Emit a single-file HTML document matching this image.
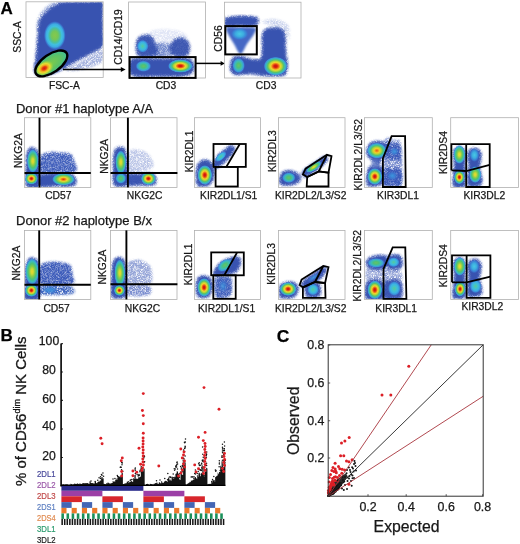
<!DOCTYPE html>
<html><head><meta charset="utf-8"><style>
html,body{margin:0;padding:0;background:#fff;}
body{width:520px;height:544px;overflow:hidden;}
svg{display:block;}
text{font-family:"Liberation Sans", sans-serif;}
</style></head><body>
<svg width="520" height="544" viewBox="0 0 520 544">
<defs><radialGradient id="gR"><stop offset="0" stop-color="#cc1010" stop-opacity="1"/><stop offset="0.14" stop-color="#d8220e" stop-opacity="1"/><stop offset="0.27" stop-color="#ee7218" stop-opacity="1"/><stop offset="0.4" stop-color="#f0d42a" stop-opacity="1"/><stop offset="0.53" stop-color="#b4d63a" stop-opacity="1"/><stop offset="0.66" stop-color="#5cc266" stop-opacity="1"/><stop offset="0.78" stop-color="#3cbcb4" stop-opacity="1"/><stop offset="0.9" stop-color="#3c9ee0" stop-opacity="0.9"/><stop offset="1" stop-color="#3a6cd0" stop-opacity="0"/></radialGradient><radialGradient id="gR2"><stop offset="0" stop-color="#d8300e" stop-opacity="1"/><stop offset="0.16" stop-color="#ef7a18" stop-opacity="1"/><stop offset="0.32" stop-color="#ecd62c" stop-opacity="1"/><stop offset="0.5" stop-color="#9cd040" stop-opacity="1"/><stop offset="0.66" stop-color="#50c274" stop-opacity="1"/><stop offset="0.8" stop-color="#3cb8c0" stop-opacity="1"/><stop offset="0.9" stop-color="#3c9ee0" stop-opacity="0.85"/><stop offset="1" stop-color="#3a6cd0" stop-opacity="0"/></radialGradient><radialGradient id="gRE"><stop offset="0" stop-color="#d01a10" stop-opacity="1"/><stop offset="0.22" stop-color="#e8400f" stop-opacity="1"/><stop offset="0.4" stop-color="#f0a81e" stop-opacity="1"/><stop offset="0.6" stop-color="#e8dc30" stop-opacity="1"/><stop offset="0.8" stop-color="#a8d43c" stop-opacity="0.8"/><stop offset="1" stop-color="#8ccf48" stop-opacity="0"/></radialGradient><radialGradient id="gEll"><stop offset="0" stop-color="#7ccb4c" stop-opacity="1"/><stop offset="0.6" stop-color="#5cc266" stop-opacity="1"/><stop offset="0.85" stop-color="#48c08a" stop-opacity="1"/><stop offset="1" stop-color="#40b8b0" stop-opacity="1"/></radialGradient><radialGradient id="gO"><stop offset="0" stop-color="#e85a14" stop-opacity="1"/><stop offset="0.12" stop-color="#f08a1c" stop-opacity="1"/><stop offset="0.28" stop-color="#f0d02a" stop-opacity="1"/><stop offset="0.45" stop-color="#a8d43c" stop-opacity="1"/><stop offset="0.6" stop-color="#54c270" stop-opacity="1"/><stop offset="0.74" stop-color="#3cbcb8" stop-opacity="1"/><stop offset="0.88" stop-color="#3c9ee0" stop-opacity="0.9"/><stop offset="1" stop-color="#3a6cd0" stop-opacity="0"/></radialGradient><radialGradient id="gY"><stop offset="0" stop-color="#ecd82c" stop-opacity="1"/><stop offset="0.18" stop-color="#d0da34" stop-opacity="1"/><stop offset="0.38" stop-color="#88cc4a" stop-opacity="1"/><stop offset="0.58" stop-color="#4cc276" stop-opacity="1"/><stop offset="0.75" stop-color="#3cbcb8" stop-opacity="1"/><stop offset="0.88" stop-color="#3c9ee0" stop-opacity="0.9"/><stop offset="1" stop-color="#3a6cd0" stop-opacity="0"/></radialGradient><radialGradient id="gG"><stop offset="0" stop-color="#66c266" stop-opacity="1"/><stop offset="0.3" stop-color="#4cc07c" stop-opacity="1"/><stop offset="0.55" stop-color="#3cbcb8" stop-opacity="1"/><stop offset="0.78" stop-color="#3c9ee0" stop-opacity="0.9"/><stop offset="1" stop-color="#3a6cd0" stop-opacity="0"/></radialGradient><radialGradient id="gC1"><stop offset="0" stop-color="#58c898" stop-opacity="1"/><stop offset="0.3" stop-color="#44c4c8" stop-opacity="1"/><stop offset="0.6" stop-color="#3cb4e4" stop-opacity="1"/><stop offset="0.82" stop-color="#3a90dc" stop-opacity="0.9"/><stop offset="1" stop-color="#3a6cd0" stop-opacity="0"/></radialGradient><radialGradient id="gCG"><stop offset="0" stop-color="#86c84c" stop-opacity="1"/><stop offset="0.3" stop-color="#74c658" stop-opacity="1"/><stop offset="0.5" stop-color="#4cc0a0" stop-opacity="1"/><stop offset="0.64" stop-color="#40c0e0" stop-opacity="1"/><stop offset="0.8" stop-color="#3eaae2" stop-opacity="1"/><stop offset="0.9" stop-color="#3a88d8" stop-opacity="0.7"/><stop offset="1" stop-color="#3a6cd0" stop-opacity="0"/></radialGradient><radialGradient id="gC"><stop offset="0" stop-color="#48c8e4" stop-opacity="1"/><stop offset="0.45" stop-color="#3cacdf" stop-opacity="1"/><stop offset="0.75" stop-color="#3a86d8" stop-opacity="0.85"/><stop offset="1" stop-color="#3a6cd0" stop-opacity="0"/></radialGradient><radialGradient id="gC2"><stop offset="0" stop-color="#3c96de" stop-opacity="1"/><stop offset="0.5" stop-color="#3a80d4" stop-opacity="0.8"/><stop offset="1" stop-color="#3a6cd0" stop-opacity="0"/></radialGradient><filter id="spk" x="-20%" y="-20%" width="140%" height="140%"><feGaussianBlur in="SourceGraphic" stdDeviation="1.3" result="bl"/><feTurbulence type="fractalNoise" baseFrequency="1.8" numOctaves="2" seed="5" result="n"/><feColorMatrix in="n" type="matrix" values="0 0 0 0 0  0 0 0 0 0  0 0 0 0 0  2.6 0 0 0 -0.55" result="na"/><feComposite in="bl" in2="na" operator="in" result="c"/><feGaussianBlur in="c" stdDeviation="0.35"/></filter><filter id="b5" x="-30%" y="-30%" width="160%" height="160%"><feGaussianBlur stdDeviation="0.5"/></filter><filter id="b9" x="-30%" y="-30%" width="160%" height="160%"><feGaussianBlur stdDeviation="0.9"/></filter><filter id="b10" x="-30%" y="-30%" width="160%" height="160%"><feGaussianBlur stdDeviation="1.0"/></filter><filter id="b12" x="-30%" y="-30%" width="160%" height="160%"><feGaussianBlur stdDeviation="1.2"/></filter><filter id="b13" x="-30%" y="-30%" width="160%" height="160%"><feGaussianBlur stdDeviation="1.3"/></filter><filter id="b15" x="-30%" y="-30%" width="160%" height="160%"><feGaussianBlur stdDeviation="1.5"/></filter></defs>
<rect width="520" height="544" fill="#fff"/>
<clipPath id="fc"><rect x="26.4" y="2.2" width="76.4" height="74.8"/><rect x="129" y="2.4" width="76.1" height="75.2"/><rect x="224.8" y="2.6" width="75.8" height="75"/><rect x="24.9" y="118.1" width="65.5" height="68.9"/><rect x="110.9" y="118.1" width="65.7" height="68.9"/><rect x="194.9" y="118.1" width="65.2" height="68.9"/><rect x="278.9" y="118.1" width="65.7" height="68.9"/><rect x="364.8" y="118.1" width="67.1" height="68.9"/><rect x="451.1" y="118.1" width="67" height="68.9"/><rect x="24.9" y="230.8" width="65.5" height="68.2"/><rect x="110.9" y="230.8" width="65.7" height="68.2"/><rect x="194.9" y="230.8" width="65.2" height="68.2"/><rect x="278.9" y="230.8" width="65.7" height="68.2"/><rect x="364.8" y="230.8" width="67.1" height="68.2"/><rect x="451.1" y="230.8" width="67" height="68.2"/></clipPath>
<g clip-path="url(#fc)"><path d="M36.5,28 C36.33,26 36.92,21 38,18 C39.08,15 41,12.33 43,10 C45,7.67 47.5,5.42 50,4 C52.5,2.58 55.33,1.77 58,1.5 C60.67,1.23 67.33,0.98 66,2.4 C64.67,3.82 53.67,7.73 50,10 C46.33,12.27 45.58,14 44,16 C42.42,18 41.33,19.67 40.5,22 C39.67,24.33 39.67,29 39,30 C38.33,31 36.67,30 36.5,28Z" fill="#7088cc" opacity="0.6" filter="url(#spk)"/>
<path d="M38.8,30 C39.22,26.67 39.63,22.5 40.5,20 C41.37,17.5 42.52,16.67 44,15 C45.48,13.33 47.23,11.67 49.4,10 C51.57,8.33 54.57,6.27 57,5 C59.43,3.73 58.5,2.85 64,2.4 C69.5,1.95 83.7,2.32 90,2.3 C96.3,2.28 99.73,1.35 101.8,2.3 C103.87,3.25 102.3,3.38 102.4,8 C102.5,12.62 102.43,23.83 102.4,30 C102.37,36.17 103.93,41.33 102.2,45 C100.47,48.67 96.03,49.58 92,52 C87.97,54.42 82.67,56.92 78,59.5 C73.33,62.08 68.33,65.25 64,67.5 C59.67,69.75 56,71.67 52,73 C48,74.33 42.83,76 40,75.5 C37.17,75 35.58,72.92 35,70 C34.42,67.08 36,63 36.5,58 C37,53 37.62,44.67 38,40 C38.38,35.33 38.38,33.33 38.8,30Z" fill="#3852b0" stroke="#3852b0" stroke-width="3" opacity="0.85" filter="url(#spk)"/>
<path d="M38.8,30 C39.22,26.67 39.63,22.5 40.5,20 C41.37,17.5 42.52,16.67 44,15 C45.48,13.33 47.23,11.67 49.4,10 C51.57,8.33 54.57,6.27 57,5 C59.43,3.73 58.5,2.85 64,2.4 C69.5,1.95 83.7,2.32 90,2.3 C96.3,2.28 99.73,1.35 101.8,2.3 C103.87,3.25 102.3,3.38 102.4,8 C102.5,12.62 102.43,23.83 102.4,30 C102.37,36.17 103.93,41.33 102.2,45 C100.47,48.67 96.03,49.58 92,52 C87.97,54.42 82.67,56.92 78,59.5 C73.33,62.08 68.33,65.25 64,67.5 C59.67,69.75 56,71.67 52,73 C48,74.33 42.83,76 40,75.5 C37.17,75 35.58,72.92 35,70 C34.42,67.08 36,63 36.5,58 C37,53 37.62,44.67 38,40 C38.38,35.33 38.38,33.33 38.8,30Z" fill="#3852b0" opacity="1.0" filter="url(#b10)"/>
<path d="M66,70 C66.33,68.5 76,64.33 82,61 C88,57.67 98.67,49.83 102,50 C105.33,50.17 105.67,58.67 102,62 C98.33,65.33 86,68.67 80,70 C74,71.33 65.67,71.5 66,70Z" fill="#6a80c8" opacity="0.6" filter="url(#spk)"/>
<ellipse cx="54.8" cy="35.5" rx="11" ry="14.5" fill="url(#gCG)"/>
<clipPath id="ce"><ellipse cx="51.3" cy="63.4" rx="18.5" ry="9" transform="rotate(-35 51.3 63.4)"/></clipPath>
<g clip-path="url(#ce)"><ellipse cx="51.3" cy="63.4" rx="19" ry="9.5" fill="url(#gEll)" transform="rotate(-35 51.3 63.4)"/>
<ellipse cx="44.3" cy="68.3" rx="10" ry="7" fill="url(#gRE)" transform="rotate(-30 44.3 68.3)"/>
</g>
<path d="M148,32 C150.5,30.17 159.33,29 165,29 C170.67,29 178.17,30.17 182,32 C185.83,33.83 190,38.33 188,40 C186,41.67 176.33,42 170,42 C163.67,42 153.67,41.67 150,40 C146.33,38.33 145.5,33.83 148,32Z" fill="#a8b6e4" opacity="0.35" filter="url(#spk)"/>
<path d="M150,46 C153.67,44.17 168.33,43.33 172,45 C175.67,46.67 175.67,54.17 172,56 C168.33,57.83 153.67,57.67 150,56 C146.33,54.33 146.33,47.83 150,46Z" fill="#7088cc" opacity="0.45" filter="url(#b15)"/>
<path d="M150,44 C153.67,42 168.33,42 172,44 C175.67,46 175.67,54 172,56 C168.33,58 153.67,58 150,56 C146.33,54 146.33,46 150,44Z" fill="#5a74c4" opacity="0.7" filter="url(#spk)"/>
<path d="M137,43 C137.33,40.25 138.5,38.75 140,37.5 C141.5,36.25 144,35.42 146,35.5 C148,35.58 150.5,36.25 152,38 C153.5,39.75 154.17,43.5 155,46 C155.83,48.5 158.5,51.33 157,53 C155.5,54.67 149.17,55.83 146,56 C142.83,56.17 139.5,56.17 138,54 C136.5,51.83 136.67,45.75 137,43Z" fill="#3852b0" stroke="#3852b0" stroke-width="3" opacity="0.782" filter="url(#spk)"/>
<path d="M137,43 C137.33,40.25 138.5,38.75 140,37.5 C141.5,36.25 144,35.42 146,35.5 C148,35.58 150.5,36.25 152,38 C153.5,39.75 154.17,43.5 155,46 C155.83,48.5 158.5,51.33 157,53 C155.5,54.67 149.17,55.83 146,56 C142.83,56.17 139.5,56.17 138,54 C136.5,51.83 136.67,45.75 137,43Z" fill="#3852b0" opacity="0.92" filter="url(#b10)"/>
<path d="M172,44 C172.83,42.08 174.17,40.33 176,39.5 C177.83,38.67 181,38.42 183,39 C185,39.58 187,41.17 188,43 C189,44.83 189.33,48 189,50 C188.67,52 188.17,54.08 186,55 C183.83,55.92 178.5,56.17 176,55.5 C173.5,54.83 171.67,52.92 171,51 C170.33,49.08 171.17,45.92 172,44Z" fill="#3852b0" stroke="#3852b0" stroke-width="3" opacity="0.765" filter="url(#spk)"/>
<path d="M172,44 C172.83,42.08 174.17,40.33 176,39.5 C177.83,38.67 181,38.42 183,39 C185,39.58 187,41.17 188,43 C189,44.83 189.33,48 189,50 C188.67,52 188.17,54.08 186,55 C183.83,55.92 178.5,56.17 176,55.5 C173.5,54.83 171.67,52.92 171,51 C170.33,49.08 171.17,45.92 172,44Z" fill="#3852b0" opacity="0.9" filter="url(#b10)"/>
<ellipse cx="142.6" cy="46.2" rx="6" ry="6.5" fill="url(#gC1)"/>
<path d="M131,61 C132.5,58.67 135.17,59.25 140,59 C144.83,58.75 153.33,59.58 160,59.5 C166.67,59.42 175,58.42 180,58.5 C185,58.58 187.83,58.75 190,60 C192.17,61.25 192.83,63.83 193,66 C193.17,68.17 193.17,71.42 191,73 C188.83,74.58 185.17,75.08 180,75.5 C174.83,75.92 166.67,75.45 160,75.5 C153.33,75.55 144.83,76.22 140,75.8 C135.17,75.38 132.5,75.47 131,73 C129.5,70.53 129.5,63.33 131,61Z" fill="#3852b0" stroke="#3852b0" stroke-width="3" opacity="0.85" filter="url(#spk)"/>
<path d="M131,61 C132.5,58.67 135.17,59.25 140,59 C144.83,58.75 153.33,59.58 160,59.5 C166.67,59.42 175,58.42 180,58.5 C185,58.58 187.83,58.75 190,60 C192.17,61.25 192.83,63.83 193,66 C193.17,68.17 193.17,71.42 191,73 C188.83,74.58 185.17,75.08 180,75.5 C174.83,75.92 166.67,75.45 160,75.5 C153.33,75.55 144.83,76.22 140,75.8 C135.17,75.38 132.5,75.47 131,73 C129.5,70.53 129.5,63.33 131,61Z" fill="#3852b0" opacity="1.0" filter="url(#b9)"/>
<ellipse cx="143.4" cy="66.2" rx="8" ry="5.8" fill="url(#gG)"/>
<ellipse cx="180.4" cy="66" rx="12.5" ry="6.8" fill="url(#gR)"/>
<path d="M262,22 C260.67,20.17 270.67,18.5 275,19 C279.33,19.5 285.67,21.5 288,25 C290.33,28.5 289.83,39.17 289,40 C288.17,40.83 287.5,33 283,30 C278.5,27 263.33,23.83 262,22Z" fill="#8da0d8" opacity="0.45" filter="url(#spk)"/>
<path d="M226,19 C227.5,17.58 232,17.33 236,17 C240,16.67 246.5,16.75 250,17 C253.5,17.25 255.83,17.5 257,18.5 C258.17,19.5 257.83,21.83 257,23 C256.17,24.17 254.83,25.17 252,25.5 C249.17,25.83 244.17,25 240,25 C235.83,25 229.33,26.5 227,25.5 C224.67,24.5 224.5,20.42 226,19Z" fill="#3852b0" stroke="#3852b0" stroke-width="3" opacity="0.85" filter="url(#spk)"/>
<path d="M226,19 C227.5,17.58 232,17.33 236,17 C240,16.67 246.5,16.75 250,17 C253.5,17.25 255.83,17.5 257,18.5 C258.17,19.5 257.83,21.83 257,23 C256.17,24.17 254.83,25.17 252,25.5 C249.17,25.83 244.17,25 240,25 C235.83,25 229.33,26.5 227,25.5 C224.67,24.5 224.5,20.42 226,19Z" fill="#3852b0" opacity="1.0" filter="url(#b9)"/>
<path d="M227,27.5 C229,26.42 235.33,27.42 240,27.5 C244.67,27.58 252.67,26.92 255,28 C257.33,29.08 255.33,31.33 254,34 C252.67,36.67 249,40.83 247,44 C245,47.17 243.33,51.5 242,53 C240.67,54.5 240.33,54.5 239,53 C237.67,51.5 235.83,47.17 234,44 C232.17,40.83 229.17,36.75 228,34 C226.83,31.25 225,28.58 227,27.5Z" fill="#4468c4" opacity="1.0" filter="url(#b9)"/>
<ellipse cx="239.6" cy="33.9" rx="9" ry="6.5" fill="url(#gC)"/>
<path d="M263,36 C263.67,31.33 264.33,31.25 266,30 C267.67,28.75 270.5,28.58 273,28.5 C275.5,28.42 279.08,28.42 281,29.5 C282.92,30.58 283.83,31.58 284.5,35 C285.17,38.42 284.67,45.5 285,50 C285.33,54.5 286.33,58.33 286.5,62 C286.67,65.67 286.92,69.83 286,72 C285.08,74.17 284.5,74.5 281,75 C277.5,75.5 270.17,75.33 265,75 C259.83,74.67 254.83,73.17 250,73 C245.17,72.83 239.17,74.67 236,74 C232.83,73.33 231.5,71.5 231,69 C230.5,66.5 231.5,61 233,59 C234.5,57 236.83,56.83 240,57 C243.17,57.17 248.33,59.83 252,60 C255.67,60.17 260.17,62 262,58 C263.83,54 262.33,40.67 263,36Z" fill="#3852b0" stroke="#3852b0" stroke-width="3" opacity="0.85" filter="url(#spk)"/>
<path d="M263,36 C263.67,31.33 264.33,31.25 266,30 C267.67,28.75 270.5,28.58 273,28.5 C275.5,28.42 279.08,28.42 281,29.5 C282.92,30.58 283.83,31.58 284.5,35 C285.17,38.42 284.67,45.5 285,50 C285.33,54.5 286.33,58.33 286.5,62 C286.67,65.67 286.92,69.83 286,72 C285.08,74.17 284.5,74.5 281,75 C277.5,75.5 270.17,75.33 265,75 C259.83,74.67 254.83,73.17 250,73 C245.17,72.83 239.17,74.67 236,74 C232.83,73.33 231.5,71.5 231,69 C230.5,66.5 231.5,61 233,59 C234.5,57 236.83,56.83 240,57 C243.17,57.17 248.33,59.83 252,60 C255.67,60.17 260.17,62 262,58 C263.83,54 262.33,40.67 263,36Z" fill="#3852b0" opacity="1.0" filter="url(#b9)"/>
<ellipse cx="238.6" cy="65.5" rx="6.5" ry="8" fill="url(#gG)"/>
<ellipse cx="275.6" cy="66.2" rx="12" ry="9.5" fill="url(#gR)"/>
<path d="M41,157 C42.5,154 46.83,154.5 50,154 C53.17,153.5 56.83,153.83 60,154 C63.17,154.17 66.83,153.83 69,155 C71.17,156.17 72.25,158.17 73,161 C73.75,163.83 78.83,170.17 73.5,172 C68.17,173.83 46.42,174.5 41,172 C35.58,169.5 39.5,160 41,157Z" fill="#5c76c6" opacity="0.55" filter="url(#b15)"/>
<path d="M41,156 C42.5,152.67 46.83,152.58 50,152 C53.17,151.42 56.67,152.25 60,152.5 C63.33,152.75 67.67,152.25 70,153.5 C72.33,154.75 73.25,156.92 74,160 C74.75,163.08 80,170 74.5,172 C69,174 46.58,174.67 41,172 C35.42,169.33 39.5,159.33 41,156Z" fill="#4260bc" opacity="1.0" filter="url(#spk)"/>
<path d="M27.5,155 C28.08,151.17 28.75,149.92 30,149 C31.25,148.08 33.57,148.33 35,149.5 C36.43,150.67 37.97,152.25 38.6,156 C39.23,159.75 38.8,167.08 38.8,172 C38.8,176.92 40.48,183.25 38.6,185.5 C36.72,187.75 29.52,187.75 27.5,185.5 C25.48,183.25 26.5,177.08 26.5,172 C26.5,166.92 26.92,158.83 27.5,155Z" fill="#3852b0" stroke="#3852b0" stroke-width="3" opacity="0.85" filter="url(#spk)"/>
<path d="M27.5,155 C28.08,151.17 28.75,149.92 30,149 C31.25,148.08 33.57,148.33 35,149.5 C36.43,150.67 37.97,152.25 38.6,156 C39.23,159.75 38.8,167.08 38.8,172 C38.8,176.92 40.48,183.25 38.6,185.5 C36.72,187.75 29.52,187.75 27.5,185.5 C25.48,183.25 26.5,177.08 26.5,172 C26.5,166.92 26.92,158.83 27.5,155Z" fill="#3852b0" opacity="1.0" filter="url(#b9)"/>
<path d="M40.5,176 C42.92,174.13 50.08,174.47 55,174.3 C59.92,174.13 66.67,174.22 70,175 C73.33,175.78 74.5,177.33 75,179 C75.5,180.67 76.33,183.9 73,185 C69.67,186.1 60.42,185.52 55,185.6 C49.58,185.68 42.92,187.1 40.5,185.5 C38.08,183.9 38.08,177.87 40.5,176Z" fill="#3852b0" stroke="#3852b0" stroke-width="3" opacity="0.85" filter="url(#spk)"/>
<path d="M40.5,176 C42.92,174.13 50.08,174.47 55,174.3 C59.92,174.13 66.67,174.22 70,175 C73.33,175.78 74.5,177.33 75,179 C75.5,180.67 76.33,183.9 73,185 C69.67,186.1 60.42,185.52 55,185.6 C49.58,185.68 42.92,187.1 40.5,185.5 C38.08,183.9 38.08,177.87 40.5,176Z" fill="#3852b0" opacity="1.0" filter="url(#b9)"/>
<ellipse cx="32.8" cy="160.9" rx="6" ry="12" fill="url(#gY)"/>
<ellipse cx="31.4" cy="178.6" rx="6.5" ry="6" fill="url(#gR)"/>
<ellipse cx="63.5" cy="179.3" rx="11.5" ry="6.2" fill="url(#gR2)"/>
<path d="M129,152 C130.83,148.33 136.5,149.33 140,150 C143.5,150.67 148,153 150,156 C152,159 155.5,165.33 152,168 C148.5,170.67 132.83,174.67 129,172 C125.17,169.33 127.17,155.67 129,152Z" fill="#7a8ed0" opacity="0.5" filter="url(#spk)"/>
<path d="M114.5,155 C115,151.08 115.58,149.58 117,148.5 C118.42,147.42 121.5,147.25 123,148.5 C124.5,149.75 125.4,152.08 126,156 C126.6,159.92 126.53,167.27 126.6,172 C126.67,176.73 128.33,182.33 126.4,184.4 C124.47,186.47 117.07,186.47 115,184.4 C112.93,182.33 114.08,176.9 114,172 C113.92,167.1 114,158.92 114.5,155Z" fill="#3852b0" stroke="#3852b0" stroke-width="3" opacity="0.85" filter="url(#spk)"/>
<path d="M114.5,155 C115,151.08 115.58,149.58 117,148.5 C118.42,147.42 121.5,147.25 123,148.5 C124.5,149.75 125.4,152.08 126,156 C126.6,159.92 126.53,167.27 126.6,172 C126.67,176.73 128.33,182.33 126.4,184.4 C124.47,186.47 117.07,186.47 115,184.4 C112.93,182.33 114.08,176.9 114,172 C113.92,167.1 114,158.92 114.5,155Z" fill="#3852b0" opacity="1.0" filter="url(#b9)"/>
<path d="M128.5,175 C130.42,173.35 136.42,174.7 140,174.5 C143.58,174.3 147.5,173.38 150,173.8 C152.5,174.22 154.33,175.3 155,177 C155.67,178.7 156.5,182.73 154,184 C151.5,185.27 144.25,184.53 140,184.6 C135.75,184.67 130.42,186 128.5,184.4 C126.58,182.8 126.58,176.65 128.5,175Z" fill="#3852b0" stroke="#3852b0" stroke-width="3" opacity="0.8075" filter="url(#spk)"/>
<path d="M128.5,175 C130.42,173.35 136.42,174.7 140,174.5 C143.58,174.3 147.5,173.38 150,173.8 C152.5,174.22 154.33,175.3 155,177 C155.67,178.7 156.5,182.73 154,184 C151.5,185.27 144.25,184.53 140,184.6 C135.75,184.67 130.42,186 128.5,184.4 C126.58,182.8 126.58,176.65 128.5,175Z" fill="#3852b0" opacity="0.95" filter="url(#b9)"/>
<ellipse cx="120.8" cy="162.2" rx="5.5" ry="12" fill="url(#gY)"/>
<ellipse cx="120.8" cy="178.4" rx="5.5" ry="5.5" fill="url(#gG)"/>
<ellipse cx="148.4" cy="178.6" rx="7.5" ry="6.5" fill="url(#gR)"/>
<path d="M197,172 C197.17,168.58 197.67,165.92 199,164 C200.33,162.08 203,160.5 205,160.5 C207,160.5 209.58,162.08 211,164 C212.42,165.92 213.5,169 213.5,172 C213.5,175 212.42,179.77 211,182 C209.58,184.23 207.17,184.98 205,185.4 C202.83,185.82 199.33,186.73 198,184.5 C196.67,182.27 196.83,175.42 197,172Z" fill="#3852b0" stroke="#3852b0" stroke-width="3" opacity="0.85" filter="url(#spk)"/>
<path d="M197,172 C197.17,168.58 197.67,165.92 199,164 C200.33,162.08 203,160.5 205,160.5 C207,160.5 209.58,162.08 211,164 C212.42,165.92 213.5,169 213.5,172 C213.5,175 212.42,179.77 211,182 C209.58,184.23 207.17,184.98 205,185.4 C202.83,185.82 199.33,186.73 198,184.5 C196.67,182.27 196.83,175.42 197,172Z" fill="#3852b0" opacity="1.0" filter="url(#b9)"/>
<path d="M213,166.5 C213.17,165 214.17,161.58 216,159 C217.83,156.42 221.5,153.08 224,151 C226.5,148.92 229.33,146.83 231,146.5 C232.67,146.17 234.33,147.25 234,149 C233.67,150.75 231.33,154.33 229,157 C226.67,159.67 222.33,163.17 220,165 C217.67,166.83 216.17,167.75 215,168 C213.83,168.25 212.83,168 213,166.5Z" fill="#3852b0" stroke="#3852b0" stroke-width="3" opacity="0.85" filter="url(#spk)"/>
<path d="M213,166.5 C213.17,165 214.17,161.58 216,159 C217.83,156.42 221.5,153.08 224,151 C226.5,148.92 229.33,146.83 231,146.5 C232.67,146.17 234.33,147.25 234,149 C233.67,150.75 231.33,154.33 229,157 C226.67,159.67 222.33,163.17 220,165 C217.67,166.83 216.17,167.75 215,168 C213.83,168.25 212.83,168 213,166.5Z" fill="#3852b0" opacity="1.0" filter="url(#b9)"/>
<ellipse cx="204.8" cy="175" rx="7.5" ry="10" fill="url(#gR)"/>
<ellipse cx="220.8" cy="156.6" rx="7" ry="3.5" fill="url(#gC1)" transform="rotate(-42 220.8 156.6)"/>
<path d="M281,176 C281.5,174.08 282.33,172.75 284,172 C285.67,171.25 288.83,171.17 291,171.5 C293.17,171.83 295.5,172.92 297,174 C298.5,175.08 300.17,176.5 300,178 C299.83,179.5 298,181.92 296,183 C294,184.08 290.5,184.42 288,184.5 C285.5,184.58 282.17,184.92 281,183.5 C279.83,182.08 280.5,177.92 281,176Z" fill="#3852b0" stroke="#3852b0" stroke-width="3" opacity="0.85" filter="url(#spk)"/>
<path d="M281,176 C281.5,174.08 282.33,172.75 284,172 C285.67,171.25 288.83,171.17 291,171.5 C293.17,171.83 295.5,172.92 297,174 C298.5,175.08 300.17,176.5 300,178 C299.83,179.5 298,181.92 296,183 C294,184.08 290.5,184.42 288,184.5 C285.5,184.58 282.17,184.92 281,183.5 C279.83,182.08 280.5,177.92 281,176Z" fill="#3852b0" opacity="1.0" filter="url(#b9)"/>
<path d="M297,175 C297.33,174 301.5,171.5 302,172 C302.5,172.5 300.83,177.5 300,178 C299.17,178.5 296.67,176 297,175Z" fill="#7a80cc" opacity="0.5" filter="url(#b15)"/>
<path d="M303.5,175 C303.33,174 303.25,171.83 305,170 C306.75,168.17 310.83,166.08 314,164 C317.17,161.92 321.83,158.42 324,157.5 C326.17,156.58 327.33,157.25 327,158.5 C326.67,159.75 324.17,162.92 322,165 C319.83,167.08 316.67,169.17 314,171 C311.33,172.83 307.75,175.33 306,176 C304.25,176.67 303.67,176 303.5,175Z" fill="#3852b0" stroke="#3852b0" stroke-width="3" opacity="0.85" filter="url(#spk)"/>
<path d="M303.5,175 C303.33,174 303.25,171.83 305,170 C306.75,168.17 310.83,166.08 314,164 C317.17,161.92 321.83,158.42 324,157.5 C326.17,156.58 327.33,157.25 327,158.5 C326.67,159.75 324.17,162.92 322,165 C319.83,167.08 316.67,169.17 314,171 C311.33,172.83 307.75,175.33 306,176 C304.25,176.67 303.67,176 303.5,175Z" fill="#3852b0" opacity="1.0" filter="url(#b9)"/>
<ellipse cx="288.8" cy="177.7" rx="7" ry="5.5" fill="url(#gG)"/>
<ellipse cx="313.7" cy="167" rx="9" ry="3.4" fill="url(#gY)" transform="rotate(-34 313.7 167)"/>
<path d="M384,142 C385.83,134.42 392.17,139.5 395,140 C397.83,140.5 400,137.5 401,145 C402,152.5 403.83,178.25 401,185 C398.17,191.75 386.83,192.67 384,185.5 C381.17,178.33 382.17,149.58 384,142Z" fill="#5a72c4" opacity="0.8" filter="url(#spk)"/>
<path d="M386,145.5 C387,143.5 389.83,144.75 392,145 C394.17,145.25 397.83,144.83 399,147 C400.17,149.17 400.17,156.08 399,158 C397.83,159.92 394.17,158.67 392,158.5 C389.83,158.33 387,159.17 386,157 C385,154.83 385,147.5 386,145.5Z" fill="#5a74c4" opacity="0.5" filter="url(#b13)"/>
<path d="M385,144 C386.17,141.5 389.5,142.67 392,143 C394.5,143.33 398.58,143.33 400,146 C401.42,148.67 401.83,156.67 400.5,159 C399.17,161.33 394.58,160.17 392,160 C389.42,159.83 386.17,160.67 385,158 C383.83,155.33 383.83,146.5 385,144Z" fill="#3a58b8" opacity="1" filter="url(#spk)"/>
<path d="M385,170.5 C386.17,168.17 389.5,169.92 392,170 C394.5,170.08 398.67,168.67 400,171 C401.33,173.33 401.33,181.75 400,184 C398.67,186.25 394.5,184.5 392,184.5 C389.5,184.5 386.17,186.33 385,184 C383.83,181.67 383.83,172.83 385,170.5Z" fill="#4a66c0" opacity="0.7" filter="url(#b13)"/>
<path d="M384,169 C385.33,166.17 389.17,167.92 392,168 C394.83,168.08 399.42,166.75 401,169.5 C402.58,172.25 403,181.83 401.5,184.5 C400,187.17 394.92,185.42 392,185.5 C389.08,185.58 385.33,187.75 384,185 C382.67,182.25 382.67,171.83 384,169Z" fill="#3a58b8" opacity="1" filter="url(#spk)"/>
<path d="M368,148 C368.67,146 370.33,144 372,143 C373.67,142 375.83,141.83 378,142 C380.17,142.17 383.58,142.67 385,144 C386.42,145.33 387.17,147.67 386.5,150 C385.83,152.33 382.42,155.67 381,158 C379.58,160.33 379.33,163.67 378,164 C376.67,164.33 374.67,161.5 373,160 C371.33,158.5 368.83,157 368,155 C367.17,153 367.33,150 368,148Z" fill="#3852b0" stroke="#3852b0" stroke-width="3" opacity="0.85" filter="url(#spk)"/>
<path d="M368,148 C368.67,146 370.33,144 372,143 C373.67,142 375.83,141.83 378,142 C380.17,142.17 383.58,142.67 385,144 C386.42,145.33 387.17,147.67 386.5,150 C385.83,152.33 382.42,155.67 381,158 C379.58,160.33 379.33,163.67 378,164 C376.67,164.33 374.67,161.5 373,160 C371.33,158.5 368.83,157 368,155 C367.17,153 367.33,150 368,148Z" fill="#3852b0" opacity="1.0" filter="url(#b9)"/>
<path d="M368,172 C368.5,169.08 369.33,167.92 371,167 C372.67,166.08 376.08,166 378,166.5 C379.92,167 381.75,167.42 382.5,170 C383.25,172.58 383.58,179.47 382.5,182 C381.42,184.53 378.42,184.78 376,185.2 C373.58,185.62 369.33,186.7 368,184.5 C366.67,182.3 367.5,174.92 368,172Z" fill="#3852b0" stroke="#3852b0" stroke-width="3" opacity="0.85" filter="url(#spk)"/>
<path d="M368,172 C368.5,169.08 369.33,167.92 371,167 C372.67,166.08 376.08,166 378,166.5 C379.92,167 381.75,167.42 382.5,170 C383.25,172.58 383.58,179.47 382.5,182 C381.42,184.53 378.42,184.78 376,185.2 C373.58,185.62 369.33,186.7 368,184.5 C366.67,182.3 367.5,174.92 368,172Z" fill="#3852b0" opacity="1.0" filter="url(#b9)"/>
<path d="M372,160 C373,158.33 377,156.67 378,158 C379,159.33 379,166.33 378,168 C377,169.67 373,169.33 372,168 C371,166.67 371,161.67 372,160Z" fill="#5a74c4" opacity="0.7" filter="url(#b12)"/>
<ellipse cx="376.8" cy="150.6" rx="10" ry="8" fill="url(#gO)"/>
<ellipse cx="374.8" cy="176.5" rx="7.5" ry="8.5" fill="url(#gR)"/>
<ellipse cx="394.3" cy="151.6" rx="5" ry="4.5" fill="url(#gC2)"/>
<ellipse cx="392.3" cy="175.8" rx="6" ry="5" fill="url(#gC2)"/>
<path d="M454,153 C454.25,150.75 455.25,149.33 456.5,148.5 C457.75,147.67 460.17,147.25 461.5,148 C462.83,148.75 464.08,150.17 464.5,153 C464.92,155.83 464,160.83 464,165 C464,169.17 464.5,174.58 464.5,178 C464.5,181.42 465.75,184.25 464,185.5 C462.25,186.75 455.58,188.08 454,185.5 C452.42,182.92 454.33,173.92 454.5,170 C454.67,166.08 455.08,164.83 455,162 C454.92,159.17 453.75,155.25 454,153Z" fill="#3852b0" stroke="#3852b0" stroke-width="3" opacity="0.85" filter="url(#spk)"/>
<path d="M454,153 C454.25,150.75 455.25,149.33 456.5,148.5 C457.75,147.67 460.17,147.25 461.5,148 C462.83,148.75 464.08,150.17 464.5,153 C464.92,155.83 464,160.83 464,165 C464,169.17 464.5,174.58 464.5,178 C464.5,181.42 465.75,184.25 464,185.5 C462.25,186.75 455.58,188.08 454,185.5 C452.42,182.92 454.33,173.92 454.5,170 C454.67,166.08 455.08,164.83 455,162 C454.92,159.17 453.75,155.25 454,153Z" fill="#3852b0" opacity="1.0" filter="url(#b9)"/>
<path d="M468.5,154 C468.83,151.25 470,150.25 471.5,149.5 C473,148.75 476,148.75 477.5,149.5 C479,150.25 480.17,151.75 480.5,154 C480.83,156.25 479.83,160.67 479.5,163 C479.17,165.33 478.33,166 478.5,168 C478.67,170 480.17,172.33 480.5,175 C480.83,177.67 482.33,182.25 480.5,184 C478.67,185.75 471.5,187 469.5,185.5 C467.5,184 468.5,178.25 468.5,175 C468.5,171.75 469.5,169.5 469.5,166 C469.5,162.5 468.17,156.75 468.5,154Z" fill="#3852b0" stroke="#3852b0" stroke-width="3" opacity="0.85" filter="url(#spk)"/>
<path d="M468.5,154 C468.83,151.25 470,150.25 471.5,149.5 C473,148.75 476,148.75 477.5,149.5 C479,150.25 480.17,151.75 480.5,154 C480.83,156.25 479.83,160.67 479.5,163 C479.17,165.33 478.33,166 478.5,168 C478.67,170 480.17,172.33 480.5,175 C480.83,177.67 482.33,182.25 480.5,184 C478.67,185.75 471.5,187 469.5,185.5 C467.5,184 468.5,178.25 468.5,175 C468.5,171.75 469.5,169.5 469.5,166 C469.5,162.5 468.17,156.75 468.5,154Z" fill="#3852b0" opacity="1.0" filter="url(#b9)"/>
<ellipse cx="459.4" cy="154.5" rx="6" ry="9.5" fill="url(#gY)"/>
<ellipse cx="459.4" cy="177.2" rx="5.5" ry="7" fill="url(#gR)"/>
<ellipse cx="474.4" cy="155" rx="5" ry="7" fill="url(#gC)"/>
<ellipse cx="475.2" cy="174.6" rx="6.2" ry="8.5" fill="url(#gY)"/>
<path d="M41,267 C42.17,263.58 45.67,264.17 48,263.5 C50.33,262.83 52.17,262.83 55,263 C57.83,263.17 62.5,263.83 65,264.5 C67.5,265.17 68.92,265.25 70,267 C71.08,268.75 71.33,272.17 71.5,275 C71.67,277.83 76.08,282.5 71,284 C65.92,285.5 46,286.83 41,284 C36,281.17 39.83,270.42 41,267Z" fill="#5c76c6" opacity="0.55" filter="url(#b15)"/>
<path d="M40.5,266 C41.75,262.33 45.58,262.75 48,262 C50.42,261.25 52.17,261.33 55,261.5 C57.83,261.67 62.33,262.25 65,263 C67.67,263.75 69.75,264 71,266 C72.25,268 72.33,272 72.5,275 C72.67,278 77.33,282.5 72,284 C66.67,285.5 45.75,287 40.5,284 C35.25,281 39.25,269.67 40.5,266Z" fill="#3e5cba" opacity="1.0" filter="url(#spk)"/>
<path d="M40.5,285.5 C43.75,284 54.75,285.25 60,285.5 C65.25,285.75 70,285.58 72,287 C74,288.42 77.25,292.75 72,294 C66.75,295.25 45.75,295.92 40.5,294.5 C35.25,293.08 37.25,287 40.5,285.5Z" fill="#3f66bf" opacity="1.0" filter="url(#spk)"/>
<path d="M26.5,268 C27.03,264 27.75,261.5 29,260 C30.25,258.5 32.53,258.33 34,259 C35.47,259.67 37.08,259.83 37.8,264 C38.52,268.17 38.22,278.33 38.3,284 C38.38,289.67 40.35,295.67 38.3,298 C36.25,300.33 28.08,300.33 26,298 C23.92,295.67 25.72,289 25.8,284 C25.88,279 25.97,272 26.5,268Z" fill="#3852b0" stroke="#3852b0" stroke-width="3" opacity="0.85" filter="url(#spk)"/>
<path d="M26.5,268 C27.03,264 27.75,261.5 29,260 C30.25,258.5 32.53,258.33 34,259 C35.47,259.67 37.08,259.83 37.8,264 C38.52,268.17 38.22,278.33 38.3,284 C38.38,289.67 40.35,295.67 38.3,298 C36.25,300.33 28.08,300.33 26,298 C23.92,295.67 25.72,289 25.8,284 C25.88,279 25.97,272 26.5,268Z" fill="#3852b0" opacity="1.0" filter="url(#b9)"/>
<ellipse cx="32.1" cy="271.5" rx="7" ry="13.5" fill="url(#gY)"/>
<ellipse cx="31.4" cy="290.4" rx="6.5" ry="6.5" fill="url(#gR)"/>
<ellipse cx="50" cy="290" rx="9" ry="4.5" fill="url(#gC2)"/>
<path d="M128,264 C129.17,260 132.67,260.58 135,260 C137.33,259.42 139.33,259.17 142,260.5 C144.67,261.83 149.67,264.08 151,268 C152.33,271.92 153.83,281.33 150,284 C146.17,286.67 131.67,287.33 128,284 C124.33,280.67 126.83,268 128,264Z" fill="#6a80c8" opacity="0.7" filter="url(#spk)"/>
<path d="M128,285.5 C130,283.83 136.33,285.33 140,285.5 C143.67,285.67 148.5,284.92 150,286.5 C151.5,288.08 152.67,293.5 149,295 C145.33,296.5 131.5,297.08 128,295.5 C124.5,293.92 126,287.17 128,285.5Z" fill="#5a72c4" opacity="0.8" filter="url(#spk)"/>
<path d="M113,266 C113.58,261.92 114.17,260.75 115.5,259.5 C116.83,258.25 119.48,257.58 121,258.5 C122.52,259.42 123.93,260.75 124.6,265 C125.27,269.25 124.97,278.83 125,284 C125.03,289.17 126.88,294 124.8,296 C122.72,298 114.63,298 112.5,296 C110.37,294 111.92,289 112,284 C112.08,279 112.42,270.08 113,266Z" fill="#3852b0" stroke="#3852b0" stroke-width="3" opacity="0.85" filter="url(#spk)"/>
<path d="M113,266 C113.58,261.92 114.17,260.75 115.5,259.5 C116.83,258.25 119.48,257.58 121,258.5 C122.52,259.42 123.93,260.75 124.6,265 C125.27,269.25 124.97,278.83 125,284 C125.03,289.17 126.88,294 124.8,296 C122.72,298 114.63,298 112.5,296 C110.37,294 111.92,289 112,284 C112.08,279 112.42,270.08 113,266Z" fill="#3852b0" opacity="1.0" filter="url(#b9)"/>
<ellipse cx="119.8" cy="272.9" rx="5.5" ry="14" fill="url(#gY)"/>
<ellipse cx="119.4" cy="290.4" rx="5.5" ry="5.5" fill="url(#gR)"/>
<path d="M197,284 C197.17,281.17 197.83,279.25 199,278 C200.17,276.75 202.17,276.33 204,276.5 C205.83,276.67 208.75,277.25 210,279 C211.25,280.75 211.67,284.33 211.5,287 C211.33,289.67 210.25,293.33 209,295 C207.75,296.67 205.83,297 204,297 C202.17,297 199.17,297.17 198,295 C196.83,292.83 196.83,286.83 197,284Z" fill="#3852b0" stroke="#3852b0" stroke-width="3" opacity="0.85" filter="url(#spk)"/>
<path d="M197,284 C197.17,281.17 197.83,279.25 199,278 C200.17,276.75 202.17,276.33 204,276.5 C205.83,276.67 208.75,277.25 210,279 C211.25,280.75 211.67,284.33 211.5,287 C211.33,289.67 210.25,293.33 209,295 C207.75,296.67 205.83,297 204,297 C202.17,297 199.17,297.17 198,295 C196.83,292.83 196.83,286.83 197,284Z" fill="#3852b0" opacity="1.0" filter="url(#b9)"/>
<path d="M214.5,272 C215.17,270.17 217.58,266.17 220,264 C222.42,261.83 226.17,260.08 229,259 C231.83,257.92 235.17,257 237,257.5 C238.83,258 240.17,259.75 240,262 C239.83,264.25 238.33,269 236,271 C233.67,273 229.33,273.33 226,274 C222.67,274.67 217.92,275.33 216,275 C214.08,274.67 213.83,273.83 214.5,272Z" fill="#3852b0" stroke="#3852b0" stroke-width="3" opacity="0.85" filter="url(#spk)"/>
<path d="M214.5,272 C215.17,270.17 217.58,266.17 220,264 C222.42,261.83 226.17,260.08 229,259 C231.83,257.92 235.17,257 237,257.5 C238.83,258 240.17,259.75 240,262 C239.83,264.25 238.33,269 236,271 C233.67,273 229.33,273.33 226,274 C222.67,274.67 217.92,275.33 216,275 C214.08,274.67 213.83,273.83 214.5,272Z" fill="#3852b0" opacity="1.0" filter="url(#b9)"/>
<path d="M216,279 C216.83,275.87 219.67,277.58 222,277.5 C224.33,277.42 228.5,276.42 230,278.5 C231.5,280.58 231.33,287.08 231,290 C230.67,292.92 230.33,294.95 228,296 C225.67,297.05 219,299.13 217,296.3 C215,293.47 215.17,282.13 216,279Z" fill="#5a74c4" opacity="0.7" filter="url(#b12)"/>
<path d="M215,278 C216,274.62 219.33,276.58 222,276.5 C224.67,276.42 229.33,275.25 231,277.5 C232.67,279.75 232.33,286.83 232,290 C231.67,293.17 231.67,295.37 229,296.5 C226.33,297.63 218.33,299.88 216,296.8 C213.67,293.72 214,281.38 215,278Z" fill="#3e5cba" opacity="0.95" filter="url(#spk)"/>
<ellipse cx="204.1" cy="287.4" rx="7" ry="9.5" fill="url(#gR)"/>
<ellipse cx="225" cy="265.2" rx="9" ry="5.5" fill="url(#gG)" transform="rotate(-35 225 265.2)"/>
<ellipse cx="223" cy="286" rx="5" ry="7" fill="url(#gC2)" opacity="0.8"/>
<path d="M280,288 C280.42,286 281.33,284.92 283,284 C284.67,283.08 287.83,282.42 290,282.5 C292.17,282.58 294.75,283.25 296,284.5 C297.25,285.75 297.83,288.08 297.5,290 C297.17,291.92 295.75,294.75 294,296 C292.25,297.25 289.25,297.5 287,297.5 C284.75,297.5 281.67,297.58 280.5,296 C279.33,294.42 279.58,290 280,288Z" fill="#3852b0" stroke="#3852b0" stroke-width="3" opacity="0.85" filter="url(#spk)"/>
<path d="M280,288 C280.42,286 281.33,284.92 283,284 C284.67,283.08 287.83,282.42 290,282.5 C292.17,282.58 294.75,283.25 296,284.5 C297.25,285.75 297.83,288.08 297.5,290 C297.17,291.92 295.75,294.75 294,296 C292.25,297.25 289.25,297.5 287,297.5 C284.75,297.5 281.67,297.58 280.5,296 C279.33,294.42 279.58,290 280,288Z" fill="#3852b0" opacity="1.0" filter="url(#b9)"/>
<path d="M302.5,285 C302.5,284 302.25,282.67 304,281 C305.75,279.33 310,277.08 313,275 C316,272.92 319.92,269.42 322,268.5 C324.08,267.58 325.83,267.92 325.5,269.5 C325.17,271.08 322.75,275.42 320,278 C317.25,280.58 311.67,283.5 309,285 C306.33,286.5 305.08,287 304,287 C302.92,287 302.5,286 302.5,285Z" fill="#3852b0" stroke="#3852b0" stroke-width="3" opacity="0.85" filter="url(#spk)"/>
<path d="M302.5,285 C302.5,284 302.25,282.67 304,281 C305.75,279.33 310,277.08 313,275 C316,272.92 319.92,269.42 322,268.5 C324.08,267.58 325.83,267.92 325.5,269.5 C325.17,271.08 322.75,275.42 320,278 C317.25,280.58 311.67,283.5 309,285 C306.33,286.5 305.08,287 304,287 C302.92,287 302.5,286 302.5,285Z" fill="#3852b0" opacity="1" filter="url(#b9)"/>
<path d="M306,289 C306.33,287 308,284.83 310,284 C312,283.17 316.33,283 318,284 C319.67,285 320,288 320,290 C320,292 320,295 318,296 C316,297 310,297.17 308,296 C306,294.83 305.67,291 306,289Z" fill="#3852b0" stroke="#3852b0" stroke-width="3" opacity="0.85" filter="url(#spk)"/>
<path d="M306,289 C306.33,287 308,284.83 310,284 C312,283.17 316.33,283 318,284 C319.67,285 320,288 320,290 C320,292 320,295 318,296 C316,297 310,297.17 308,296 C306,294.83 305.67,291 306,289Z" fill="#3852b0" opacity="1.0" filter="url(#b10)"/>
<ellipse cx="288.1" cy="289" rx="8.5" ry="7" fill="url(#gR)"/>
<ellipse cx="313" cy="289.5" rx="6" ry="6" fill="url(#gC1)"/>
<ellipse cx="313.5" cy="277.5" rx="8" ry="2.6" fill="url(#gC2)" transform="rotate(-36 313.5 277.5)"/>
<path d="M384,270 C385.83,268.17 392.17,268.67 395,269 C397.83,269.33 400,270.17 401,272 C402,273.83 403.83,278.67 401,280 C398.17,281.33 386.83,281.67 384,280 C381.17,278.33 382.17,271.83 384,270Z" fill="#6a80c8" opacity="0.7" filter="url(#spk)"/>
<path d="M367,268 C368.67,266.33 374,269.67 377,270 C380,270.33 383.67,268.33 385,270 C386.33,271.67 388,278.33 385,280 C382,281.67 370,282 367,280 C364,278 365.33,269.67 367,268Z" fill="#6a80c8" opacity="0.65" filter="url(#spk)"/>
<path d="M368,260 C369.17,258.42 372.17,257.08 375,256.5 C377.83,255.92 383,255.58 385,256.5 C387,257.42 387.17,260.08 387,262 C386.83,263.92 386,266.83 384,268 C382,269.17 377.67,269.33 375,269 C372.33,268.67 369.17,267.5 368,266 C366.83,264.5 366.83,261.58 368,260Z" fill="#3852b0" stroke="#3852b0" stroke-width="3" opacity="0.85" filter="url(#spk)"/>
<path d="M368,260 C369.17,258.42 372.17,257.08 375,256.5 C377.83,255.92 383,255.58 385,256.5 C387,257.42 387.17,260.08 387,262 C386.83,263.92 386,266.83 384,268 C382,269.17 377.67,269.33 375,269 C372.33,268.67 369.17,267.5 368,266 C366.83,264.5 366.83,261.58 368,260Z" fill="#3852b0" opacity="1.0" filter="url(#b9)"/>
<path d="M387,258 C388,256.58 389.83,255.75 392,255.5 C394.17,255.25 398.42,255.42 400,256.5 C401.58,257.58 401.5,260.08 401.5,262 C401.5,263.92 401.92,266.92 400,268 C398.08,269.08 392.33,269.17 390,268.5 C387.67,267.83 386.5,265.75 386,264 C385.5,262.25 386,259.42 387,258Z" fill="#3852b0" stroke="#3852b0" stroke-width="3" opacity="0.8075" filter="url(#spk)"/>
<path d="M387,258 C388,256.58 389.83,255.75 392,255.5 C394.17,255.25 398.42,255.42 400,256.5 C401.58,257.58 401.5,260.08 401.5,262 C401.5,263.92 401.92,266.92 400,268 C398.08,269.08 392.33,269.17 390,268.5 C387.67,267.83 386.5,265.75 386,264 C385.5,262.25 386,259.42 387,258Z" fill="#3852b0" opacity="0.95" filter="url(#b9)"/>
<path d="M367,284 C367.83,281.08 369.83,281 372,280.5 C374.17,280 378.17,280.08 380,281 C381.83,281.92 382.5,283.25 383,286 C383.5,288.75 385.67,295.5 383,297.5 C380.33,299.5 369.67,300.25 367,298 C364.33,295.75 366.17,286.92 367,284Z" fill="#3852b0" stroke="#3852b0" stroke-width="3" opacity="0.85" filter="url(#spk)"/>
<path d="M367,284 C367.83,281.08 369.83,281 372,280.5 C374.17,280 378.17,280.08 380,281 C381.83,281.92 382.5,283.25 383,286 C383.5,288.75 385.67,295.5 383,297.5 C380.33,299.5 369.67,300.25 367,298 C364.33,295.75 366.17,286.92 367,284Z" fill="#3852b0" opacity="1.0" filter="url(#b9)"/>
<path d="M385,283 C386.17,280.2 389.5,280.75 392,280.5 C394.5,280.25 398.42,280.25 400,281.5 C401.58,282.75 401.5,285.37 401.5,288 C401.5,290.63 402.75,295.75 400,297.3 C397.25,298.85 387.5,299.68 385,297.3 C382.5,294.92 383.83,285.8 385,283Z" fill="#3852b0" stroke="#3852b0" stroke-width="3" opacity="0.8075" filter="url(#spk)"/>
<path d="M385,283 C386.17,280.2 389.5,280.75 392,280.5 C394.5,280.25 398.42,280.25 400,281.5 C401.58,282.75 401.5,285.37 401.5,288 C401.5,290.63 402.75,295.75 400,297.3 C397.25,298.85 387.5,299.68 385,297.3 C382.5,294.92 383.83,285.8 385,283Z" fill="#3852b0" opacity="0.95" filter="url(#b9)"/>
<ellipse cx="376.1" cy="262.9" rx="9" ry="5" fill="url(#gG)"/>
<ellipse cx="393.6" cy="262.2" rx="6" ry="5" fill="url(#gC1)"/>
<ellipse cx="374.8" cy="289.8" rx="7.5" ry="9.5" fill="url(#gR)"/>
<ellipse cx="394.3" cy="288.5" rx="6.5" ry="7.5" fill="url(#gC1)"/>
<path d="M454,264 C454.25,261.75 455.25,260.33 456.5,259.5 C457.75,258.67 460.17,258.25 461.5,259 C462.83,259.75 464.08,261.17 464.5,264 C464.92,266.83 464,271.67 464,276 C464,280.33 464.5,286.5 464.5,290 C464.5,293.5 465.75,295.83 464,297 C462.25,298.17 455.58,299.5 454,297 C452.42,294.5 454.33,286 454.5,282 C454.67,278 455.08,276 455,273 C454.92,270 453.75,266.25 454,264Z" fill="#3852b0" stroke="#3852b0" stroke-width="3" opacity="0.85" filter="url(#spk)"/>
<path d="M454,264 C454.25,261.75 455.25,260.33 456.5,259.5 C457.75,258.67 460.17,258.25 461.5,259 C462.83,259.75 464.08,261.17 464.5,264 C464.92,266.83 464,271.67 464,276 C464,280.33 464.5,286.5 464.5,290 C464.5,293.5 465.75,295.83 464,297 C462.25,298.17 455.58,299.5 454,297 C452.42,294.5 454.33,286 454.5,282 C454.67,278 455.08,276 455,273 C454.92,270 453.75,266.25 454,264Z" fill="#3852b0" opacity="1.0" filter="url(#b9)"/>
<path d="M468.5,265 C468.83,262.25 470,261.25 471.5,260.5 C473,259.75 476,259.75 477.5,260.5 C479,261.25 480.17,262.75 480.5,265 C480.83,267.25 479.83,271.67 479.5,274 C479.17,276.33 478.33,277 478.5,279 C478.67,281 480.17,283.5 480.5,286 C480.83,288.5 482.33,292.42 480.5,294 C478.67,295.58 471.5,296.83 469.5,295.5 C467.5,294.17 468.5,289.08 468.5,286 C468.5,282.92 469.5,280.5 469.5,277 C469.5,273.5 468.17,267.75 468.5,265Z" fill="#3852b0" stroke="#3852b0" stroke-width="3" opacity="0.85" filter="url(#spk)"/>
<path d="M468.5,265 C468.83,262.25 470,261.25 471.5,260.5 C473,259.75 476,259.75 477.5,260.5 C479,261.25 480.17,262.75 480.5,265 C480.83,267.25 479.83,271.67 479.5,274 C479.17,276.33 478.33,277 478.5,279 C478.67,281 480.17,283.5 480.5,286 C480.83,288.5 482.33,292.42 480.5,294 C478.67,295.58 471.5,296.83 469.5,295.5 C467.5,294.17 468.5,289.08 468.5,286 C468.5,282.92 469.5,280.5 469.5,277 C469.5,273.5 468.17,267.75 468.5,265Z" fill="#3852b0" opacity="1.0" filter="url(#b9)"/>
<ellipse cx="459.8" cy="266.4" rx="6" ry="9.5" fill="url(#gY)"/>
<ellipse cx="460.1" cy="289" rx="5.5" ry="7.5" fill="url(#gR)"/>
<ellipse cx="474.2" cy="266.4" rx="5.5" ry="7" fill="url(#gC)"/>
<ellipse cx="475.6" cy="286.3" rx="6" ry="7" fill="url(#gC1)"/></g>
<rect x="26" y="1.8" width="77.2" height="75.6" fill="none" stroke="#b0b0b0" stroke-width="0.8"/>
<ellipse cx="51.3" cy="63.4" rx="18.5" ry="9" fill="none" stroke="#000" stroke-width="2.4" transform="rotate(-35 51.3 63.4)"/>
<line x1="63" y1="69.5" x2="122" y2="69.5" stroke="#000" stroke-width="1.5"/>
<path d="M125.6,69.5 L120.8,67 L120.8,72Z" fill="#000"/>
<rect x="128.6" y="2" width="76.9" height="76" fill="none" stroke="#b0b0b0" stroke-width="0.8"/>
<rect x="129.6" y="57.1" width="66" height="20.8" fill="none" stroke="#000" stroke-width="2.0"/>
<line x1="195.6" y1="63.4" x2="221.5" y2="63.4" stroke="#000" stroke-width="1.5"/>
<path d="M224.8,63.4 L220.6,61.1 L220.6,65.7Z" fill="#000"/>
<rect x="224.4" y="2.2" width="76.6" height="75.8" fill="none" stroke="#b0b0b0" stroke-width="0.8"/>
<rect x="225.3" y="26.1" width="31.5" height="28.3" fill="none" stroke="#000" stroke-width="2.0"/>
<rect x="24.5" y="117.7" width="66.3" height="69.7" fill="none" stroke="#b0b0b0" stroke-width="0.8"/>
<rect x="110.5" y="117.7" width="66.5" height="69.7" fill="none" stroke="#b0b0b0" stroke-width="0.8"/>
<rect x="194.5" y="117.7" width="66" height="69.7" fill="none" stroke="#b0b0b0" stroke-width="0.8"/>
<rect x="278.5" y="117.7" width="66.5" height="69.7" fill="none" stroke="#b0b0b0" stroke-width="0.8"/>
<rect x="364.4" y="117.7" width="67.9" height="69.7" fill="none" stroke="#b0b0b0" stroke-width="0.8"/>
<rect x="450.7" y="117.7" width="67.8" height="69.7" fill="none" stroke="#b0b0b0" stroke-width="0.8"/>
<rect x="24.5" y="230.4" width="66.3" height="69" fill="none" stroke="#b0b0b0" stroke-width="0.8"/>
<rect x="110.5" y="230.4" width="66.5" height="69" fill="none" stroke="#b0b0b0" stroke-width="0.8"/>
<rect x="194.5" y="230.4" width="66" height="69" fill="none" stroke="#b0b0b0" stroke-width="0.8"/>
<rect x="278.5" y="230.4" width="66.5" height="69" fill="none" stroke="#b0b0b0" stroke-width="0.8"/>
<rect x="364.4" y="230.4" width="67.9" height="69" fill="none" stroke="#b0b0b0" stroke-width="0.8"/>
<rect x="450.7" y="230.4" width="67.8" height="69" fill="none" stroke="#b0b0b0" stroke-width="0.8"/>
<line x1="39.5" y1="117.7" x2="39.5" y2="187.4" stroke="#000" stroke-width="1.9"/>
<line x1="24.5" y1="173" x2="90.8" y2="173" stroke="#000" stroke-width="1.9"/>
<line x1="127.9" y1="117.7" x2="127.9" y2="187.4" stroke="#000" stroke-width="1.9"/>
<line x1="110.5" y1="173" x2="177.4" y2="173" stroke="#000" stroke-width="1.9"/>
<rect x="213.5" y="144" width="32.3" height="22.9" fill="none" stroke="#000" stroke-width="1.8"/>
<line x1="226.3" y1="166.9" x2="239.8" y2="144" stroke="#000" stroke-width="1.8"/>
<rect x="215.6" y="166.9" width="22.2" height="19.6" fill="none" stroke="#000" stroke-width="1.8"/>
<path d="M302.9,174.3 L305.6,168.7 L326.9,154.8 L331.5,156.2 L328.5,172.7 L318.8,171.4 L307.2,177Z" fill="none" stroke="#000" stroke-width="1.8" stroke-linejoin="miter" stroke-miterlimit="3"/>
<path d="M307.2,177 L318.8,171.4 L328.5,172.7 L328.5,186.5 L306.7,186.5Z" fill="none" stroke="#000" stroke-width="1.8" stroke-linejoin="miter" stroke-miterlimit="3"/>
<line x1="318.8" y1="171.4" x2="326.9" y2="154.8" stroke="#000" stroke-width="1.9"/>
<path d="M382.9,187 L382.9,158.3 L391.6,136.1 L405.1,136.1 L405.7,187Z" fill="none" stroke="#000" stroke-width="1.8" stroke-linejoin="miter" stroke-miterlimit="3"/>
<path d="M451.4,170.3 L451.4,144.1 L489.7,144.1 L489.7,187 L466.2,187 L466.2,144.1" fill="none" stroke="#000" stroke-width="1.8" stroke-linejoin="miter" stroke-miterlimit="3"/>
<path d="M451.4,170.3 L466.2,171 L489.7,164.9" fill="none" stroke="#000" stroke-width="1.8" stroke-linejoin="miter" stroke-miterlimit="3"/>
<line x1="39.2" y1="230.4" x2="39.2" y2="299.4" stroke="#000" stroke-width="1.9"/>
<line x1="24.5" y1="284.7" x2="90.8" y2="284.7" stroke="#000" stroke-width="1.9"/>
<line x1="126.4" y1="230.4" x2="126.4" y2="299.4" stroke="#000" stroke-width="1.9"/>
<line x1="110.5" y1="284.3" x2="177.4" y2="284.3" stroke="#000" stroke-width="1.9"/>
<rect x="211.2" y="252.4" width="32.6" height="22.9" fill="none" stroke="#000" stroke-width="1.8"/>
<line x1="224.3" y1="275.3" x2="237.1" y2="252.4" stroke="#000" stroke-width="1.8"/>
<rect x="213.3" y="275.3" width="22.4" height="23.5" fill="none" stroke="#000" stroke-width="1.8"/>
<path d="M299.6,285 L301.6,279.6 L323.4,265.9 L328.5,267.1 L325.1,283 L315,282 L302.9,287.4Z" fill="none" stroke="#000" stroke-width="1.8" stroke-linejoin="miter" stroke-miterlimit="3"/>
<path d="M302.9,287.4 L315,282 L325.1,283 L325.5,297.8 L302.9,297.8Z" fill="none" stroke="#000" stroke-width="1.8" stroke-linejoin="miter" stroke-miterlimit="3"/>
<line x1="315" y1="282" x2="323.4" y2="265.9" stroke="#000" stroke-width="1.9"/>
<path d="M383.5,298.8 L383.5,268.9 L392.7,247.4 L405.3,247.4 L406.4,298.8Z" fill="none" stroke="#000" stroke-width="1.8" stroke-linejoin="miter" stroke-miterlimit="3"/>
<path d="M452,282.3 L452,255.4 L490.4,255.4 L490.4,297.8 L466.6,297.8 L466.6,255.4" fill="none" stroke="#000" stroke-width="1.8" stroke-linejoin="miter" stroke-miterlimit="3"/>
<path d="M452,282.3 L466.6,282.3 L490.4,276.6" fill="none" stroke="#000" stroke-width="1.8" stroke-linejoin="miter" stroke-miterlimit="3"/>
<rect x="61.4" y="485.8" width="81.98" height="5" fill="#2b2c8c"/>
<rect x="61.4" y="490.8" width="40.99" height="5.5" fill="#9c3fa6"/>
<rect x="143.38" y="490.8" width="40.99" height="5.5" fill="#9c3fa6"/>
<rect x="61.4" y="496.3" width="20.5" height="5.8" fill="#d8262c"/>
<rect x="102.39" y="496.3" width="20.5" height="5.8" fill="#d8262c"/>
<rect x="143.38" y="496.3" width="20.5" height="5.8" fill="#d8262c"/>
<rect x="184.38" y="496.3" width="20.5" height="5.8" fill="#d8262c"/>
<rect x="61.4" y="502.1" width="10.25" height="5.8" fill="#4466b4"/>
<rect x="81.9" y="502.1" width="10.25" height="5.8" fill="#4466b4"/>
<rect x="102.39" y="502.1" width="10.25" height="5.8" fill="#4466b4"/>
<rect x="122.89" y="502.1" width="10.25" height="5.8" fill="#4466b4"/>
<rect x="143.38" y="502.1" width="10.25" height="5.8" fill="#4466b4"/>
<rect x="163.88" y="502.1" width="10.25" height="5.8" fill="#4466b4"/>
<rect x="184.38" y="502.1" width="10.25" height="5.8" fill="#4466b4"/>
<rect x="204.87" y="502.1" width="10.25" height="5.8" fill="#4466b4"/>
<rect x="61.4" y="507.9" width="5.12" height="5.5" fill="#ec7a2c"/>
<rect x="71.65" y="507.9" width="5.12" height="5.5" fill="#ec7a2c"/>
<rect x="81.9" y="507.9" width="5.12" height="5.5" fill="#ec7a2c"/>
<rect x="92.14" y="507.9" width="5.12" height="5.5" fill="#ec7a2c"/>
<rect x="102.39" y="507.9" width="5.12" height="5.5" fill="#ec7a2c"/>
<rect x="112.64" y="507.9" width="5.12" height="5.5" fill="#ec7a2c"/>
<rect x="122.89" y="507.9" width="5.12" height="5.5" fill="#ec7a2c"/>
<rect x="133.14" y="507.9" width="5.12" height="5.5" fill="#ec7a2c"/>
<rect x="143.38" y="507.9" width="5.12" height="5.5" fill="#ec7a2c"/>
<rect x="153.63" y="507.9" width="5.12" height="5.5" fill="#ec7a2c"/>
<rect x="163.88" y="507.9" width="5.12" height="5.5" fill="#ec7a2c"/>
<rect x="174.13" y="507.9" width="5.12" height="5.5" fill="#ec7a2c"/>
<rect x="184.38" y="507.9" width="5.12" height="5.5" fill="#ec7a2c"/>
<rect x="194.62" y="507.9" width="5.12" height="5.5" fill="#ec7a2c"/>
<rect x="204.87" y="507.9" width="5.12" height="5.5" fill="#ec7a2c"/>
<rect x="215.12" y="507.9" width="5.12" height="5.5" fill="#ec7a2c"/>
<rect x="61.4" y="513.4" width="2.56" height="5.5" fill="#19905a"/>
<rect x="66.52" y="513.4" width="2.56" height="5.5" fill="#19905a"/>
<rect x="71.65" y="513.4" width="2.56" height="5.5" fill="#19905a"/>
<rect x="76.77" y="513.4" width="2.56" height="5.5" fill="#19905a"/>
<rect x="81.9" y="513.4" width="2.56" height="5.5" fill="#19905a"/>
<rect x="87.02" y="513.4" width="2.56" height="5.5" fill="#19905a"/>
<rect x="92.14" y="513.4" width="2.56" height="5.5" fill="#19905a"/>
<rect x="97.27" y="513.4" width="2.56" height="5.5" fill="#19905a"/>
<rect x="102.39" y="513.4" width="2.56" height="5.5" fill="#19905a"/>
<rect x="107.52" y="513.4" width="2.56" height="5.5" fill="#19905a"/>
<rect x="112.64" y="513.4" width="2.56" height="5.5" fill="#19905a"/>
<rect x="117.76" y="513.4" width="2.56" height="5.5" fill="#19905a"/>
<rect x="122.89" y="513.4" width="2.56" height="5.5" fill="#19905a"/>
<rect x="128.01" y="513.4" width="2.56" height="5.5" fill="#19905a"/>
<rect x="133.14" y="513.4" width="2.56" height="5.5" fill="#19905a"/>
<rect x="138.26" y="513.4" width="2.56" height="5.5" fill="#19905a"/>
<rect x="143.38" y="513.4" width="2.56" height="5.5" fill="#19905a"/>
<rect x="148.51" y="513.4" width="2.56" height="5.5" fill="#19905a"/>
<rect x="153.63" y="513.4" width="2.56" height="5.5" fill="#19905a"/>
<rect x="158.76" y="513.4" width="2.56" height="5.5" fill="#19905a"/>
<rect x="163.88" y="513.4" width="2.56" height="5.5" fill="#19905a"/>
<rect x="169" y="513.4" width="2.56" height="5.5" fill="#19905a"/>
<rect x="174.13" y="513.4" width="2.56" height="5.5" fill="#19905a"/>
<rect x="179.25" y="513.4" width="2.56" height="5.5" fill="#19905a"/>
<rect x="184.38" y="513.4" width="2.56" height="5.5" fill="#19905a"/>
<rect x="189.5" y="513.4" width="2.56" height="5.5" fill="#19905a"/>
<rect x="194.62" y="513.4" width="2.56" height="5.5" fill="#19905a"/>
<rect x="199.75" y="513.4" width="2.56" height="5.5" fill="#19905a"/>
<rect x="204.87" y="513.4" width="2.56" height="5.5" fill="#19905a"/>
<rect x="210" y="513.4" width="2.56" height="5.5" fill="#19905a"/>
<rect x="215.12" y="513.4" width="2.56" height="5.5" fill="#19905a"/>
<rect x="220.24" y="513.4" width="2.56" height="5.5" fill="#19905a"/>
<rect x="61.4" y="518.9" width="1.53" height="6.1" fill="#151515"/>
<rect x="63.96" y="518.9" width="1.53" height="6.1" fill="#151515"/>
<rect x="66.52" y="518.9" width="1.53" height="6.1" fill="#151515"/>
<rect x="69.09" y="518.9" width="1.53" height="6.1" fill="#151515"/>
<rect x="71.65" y="518.9" width="1.53" height="6.1" fill="#151515"/>
<rect x="74.21" y="518.9" width="1.53" height="6.1" fill="#151515"/>
<rect x="76.77" y="518.9" width="1.53" height="6.1" fill="#151515"/>
<rect x="79.33" y="518.9" width="1.53" height="6.1" fill="#151515"/>
<rect x="81.9" y="518.9" width="1.53" height="6.1" fill="#151515"/>
<rect x="84.46" y="518.9" width="1.53" height="6.1" fill="#151515"/>
<rect x="87.02" y="518.9" width="1.53" height="6.1" fill="#151515"/>
<rect x="89.58" y="518.9" width="1.53" height="6.1" fill="#151515"/>
<rect x="92.14" y="518.9" width="1.53" height="6.1" fill="#151515"/>
<rect x="94.71" y="518.9" width="1.53" height="6.1" fill="#151515"/>
<rect x="97.27" y="518.9" width="1.53" height="6.1" fill="#151515"/>
<rect x="99.83" y="518.9" width="1.53" height="6.1" fill="#151515"/>
<rect x="102.39" y="518.9" width="1.53" height="6.1" fill="#151515"/>
<rect x="104.95" y="518.9" width="1.53" height="6.1" fill="#151515"/>
<rect x="107.52" y="518.9" width="1.53" height="6.1" fill="#151515"/>
<rect x="110.08" y="518.9" width="1.53" height="6.1" fill="#151515"/>
<rect x="112.64" y="518.9" width="1.53" height="6.1" fill="#151515"/>
<rect x="115.2" y="518.9" width="1.53" height="6.1" fill="#151515"/>
<rect x="117.76" y="518.9" width="1.53" height="6.1" fill="#151515"/>
<rect x="120.33" y="518.9" width="1.53" height="6.1" fill="#151515"/>
<rect x="122.89" y="518.9" width="1.53" height="6.1" fill="#151515"/>
<rect x="125.45" y="518.9" width="1.53" height="6.1" fill="#151515"/>
<rect x="128.01" y="518.9" width="1.53" height="6.1" fill="#151515"/>
<rect x="130.57" y="518.9" width="1.53" height="6.1" fill="#151515"/>
<rect x="133.14" y="518.9" width="1.53" height="6.1" fill="#151515"/>
<rect x="135.7" y="518.9" width="1.53" height="6.1" fill="#151515"/>
<rect x="138.26" y="518.9" width="1.53" height="6.1" fill="#151515"/>
<rect x="140.82" y="518.9" width="1.53" height="6.1" fill="#151515"/>
<rect x="143.38" y="518.9" width="1.53" height="6.1" fill="#151515"/>
<rect x="145.95" y="518.9" width="1.53" height="6.1" fill="#151515"/>
<rect x="148.51" y="518.9" width="1.53" height="6.1" fill="#151515"/>
<rect x="151.07" y="518.9" width="1.53" height="6.1" fill="#151515"/>
<rect x="153.63" y="518.9" width="1.53" height="6.1" fill="#151515"/>
<rect x="156.19" y="518.9" width="1.53" height="6.1" fill="#151515"/>
<rect x="158.76" y="518.9" width="1.53" height="6.1" fill="#151515"/>
<rect x="161.32" y="518.9" width="1.53" height="6.1" fill="#151515"/>
<rect x="163.88" y="518.9" width="1.53" height="6.1" fill="#151515"/>
<rect x="166.44" y="518.9" width="1.53" height="6.1" fill="#151515"/>
<rect x="169" y="518.9" width="1.53" height="6.1" fill="#151515"/>
<rect x="171.57" y="518.9" width="1.53" height="6.1" fill="#151515"/>
<rect x="174.13" y="518.9" width="1.53" height="6.1" fill="#151515"/>
<rect x="176.69" y="518.9" width="1.53" height="6.1" fill="#151515"/>
<rect x="179.25" y="518.9" width="1.53" height="6.1" fill="#151515"/>
<rect x="181.81" y="518.9" width="1.53" height="6.1" fill="#151515"/>
<rect x="184.38" y="518.9" width="1.53" height="6.1" fill="#151515"/>
<rect x="186.94" y="518.9" width="1.53" height="6.1" fill="#151515"/>
<rect x="189.5" y="518.9" width="1.53" height="6.1" fill="#151515"/>
<rect x="192.06" y="518.9" width="1.53" height="6.1" fill="#151515"/>
<rect x="194.62" y="518.9" width="1.53" height="6.1" fill="#151515"/>
<rect x="197.19" y="518.9" width="1.53" height="6.1" fill="#151515"/>
<rect x="199.75" y="518.9" width="1.53" height="6.1" fill="#151515"/>
<rect x="202.31" y="518.9" width="1.53" height="6.1" fill="#151515"/>
<rect x="204.87" y="518.9" width="1.53" height="6.1" fill="#151515"/>
<rect x="207.43" y="518.9" width="1.53" height="6.1" fill="#151515"/>
<rect x="210" y="518.9" width="1.53" height="6.1" fill="#151515"/>
<rect x="212.56" y="518.9" width="1.53" height="6.1" fill="#151515"/>
<rect x="215.12" y="518.9" width="1.53" height="6.1" fill="#151515"/>
<rect x="217.68" y="518.9" width="1.53" height="6.1" fill="#151515"/>
<rect x="220.24" y="518.9" width="1.53" height="6.1" fill="#151515"/>
<rect x="222.81" y="518.9" width="1.53" height="6.1" fill="#151515"/>
<path d="M61.4,485.8 L61.4,484.57 L62.68,484.57 L62.68,484.33 L63.96,484.2 L63.96,484.44 L65.24,484.61 L65.24,484.23 L66.52,484.33 L66.52,484.18 L67.81,484.22 L67.8,484.6 L69.09,484.72 L69.09,484.6 L70.37,484.71 L70.37,483.85 L71.65,484.06 L71.65,484.3 L72.93,484.44 L72.93,484.27 L74.21,484.31 L74.21,483.48 L75.49,483.74 L75.49,483.93 L76.77,484.09 L76.77,483.47 L78.05,483.4 L78.05,483.77 L79.33,484.16 L79.33,483.51 L80.62,483.58 L80.61,483.99 L81.9,483.96 L81.9,483.34 L83.18,483.6 L83.18,482.95 L84.46,483.33 L84.46,483.29 L85.74,483.19 L85.74,482.9 L87.02,483.27 L87.02,482.89 L88.3,483.3 L88.3,483.66 L89.58,483.81 L89.58,482.53 L90.86,482.5 L90.86,482.67 L92.14,483.2 L92.14,483.03 L93.43,483.31 L93.42,483.38 L94.71,483.62 L94.71,481.84 L95.99,481.64 L95.99,482.99 L97.27,483.18 L97.27,482.22 L98.55,482.02 L98.55,481.07 L99.83,481.77 L99.83,480.29 L101.11,480.84 L101.11,478.26 L102.39,478.3 L102.39,478.62 L103.67,478.15 L103.67,483.82 L104.95,483.95 L104.95,483.97 L106.23,484.21 L106.23,483.04 L107.52,483.49 L107.52,482.53 L108.8,482.66 L108.8,483.18 L110.08,483.55 L110.08,483.5 L111.36,483.4 L111.36,483.11 L112.64,482.97 L112.64,481.08 L113.92,481.76 L113.92,481.3 L115.2,481.83 L115.2,479.71 L116.48,479.46 L116.48,479.6 L117.76,479.64 L117.76,477.46 L119.05,477.11 L119.04,476.55 L120.33,477.44 L120.33,475.2 L121.61,476.91 L121.61,471.9 L122.89,473.47 L122.89,484.01 L124.17,483.95 L124.17,483.39 L125.45,483.67 L125.45,483 L126.73,483.27 L126.73,481.72 L128.01,482.03 L128.01,482.42 L129.29,482.67 L129.29,481.67 L130.57,481.99 L130.57,481.26 L131.85,480.91 L131.85,481.38 L133.14,482.06 L133.14,477.66 L134.42,479.28 L134.42,475.16 L135.7,474.28 L135.7,478.89 L136.98,478.44 L136.98,479.11 L138.26,478.47 L138.26,476.91 L139.54,477.53 L139.54,477.25 L140.82,476.52 L140.82,470.94 L142.1,469.78 L142.1,469.56 L143.38,471.73 L143.38,468.95 L144.66,468.55 L144.66,484.7 L145.95,484.65 L145.95,484.07 L147.23,484.07 L147.23,483.87 L148.51,483.96 L148.51,484.52 L149.79,484.67 L149.79,483.77 L151.07,483.97 L151.07,484 L152.35,484.23 L152.35,484.13 L153.63,484.43 L153.63,483.81 L154.91,483.86 L154.91,483.04 L156.19,483.35 L156.19,482.66 L157.47,482.53 L157.47,483.64 L158.76,484.04 L158.76,482.54 L160.04,482.3 L160.04,483.27 L161.32,483.25 L161.32,482.62 L162.6,482.38 L162.6,483.02 L163.88,482.83 L163.88,481.64 L165.16,481.35 L165.16,480.75 L166.44,480.88 L166.44,481.06 L167.72,481.99 L167.72,478.82 L169,478.66 L169,480.01 L170.28,480.87 L170.28,480.02 L171.57,480.66 L171.57,476.82 L172.85,476.83 L172.85,478.49 L174.13,478.8 L174.13,476.58 L175.41,477.28 L175.41,474.09 L176.69,473.14 L176.69,471.29 L177.97,471.52 L177.97,473.35 L179.25,474.57 L179.25,479.31 L180.53,480.12 L180.53,473.99 L181.81,473.3 L181.81,474.41 L183.09,475.06 L183.09,465.51 L184.38,464.81 L184.38,460.54 L185.66,462.92 L185.66,484.2 L186.94,484.43 L186.94,483.77 L188.22,483.85 L188.22,482.97 L189.5,482.84 L189.5,481.71 L190.78,482.32 L190.78,480.81 L192.06,480.62 L192.06,480.52 L193.34,480.12 L193.34,479.57 L194.62,479.31 L194.62,477.33 L195.91,476.93 L195.91,477.65 L197.19,479.26 L197.19,476.57 L198.47,476.68 L198.47,473.3 L199.75,472.56 L199.75,474.59 L201.03,476.66 L201.03,472.39 L202.31,473.98 L202.31,464.4 L203.59,466.96 L203.59,476.19 L204.87,476.6 L204.87,470.92 L206.15,472 L206.15,467.45 L207.43,468.52 L207.43,484.17 L208.72,484.11 L208.72,483.64 L210,484.07 L210,483.71 L211.28,484.09 L211.28,481.77 L212.56,482.42 L212.56,479.7 L213.84,480.69 L213.84,480.86 L215.12,481.74 L215.12,477.34 L216.4,476.56 L216.4,476.02 L217.68,475.47 L217.68,472.18 L218.96,474.55 L218.96,471.65 L220.24,472.35 L220.24,465.16 L221.53,467.33 L221.53,460.79 L222.81,463.44 L222.81,466.22 L224.09,468.07 L224.09,462.43 L225.37,462.57 L225.37,485.8Z" fill="#141414"/>
<circle cx="90.04" cy="481.97" r="0.75" fill="#141414"/>
<circle cx="91.02" cy="481.11" r="0.75" fill="#141414"/>
<circle cx="95.19" cy="481.55" r="0.75" fill="#141414"/>
<circle cx="97.75" cy="480.27" r="0.75" fill="#141414"/>
<circle cx="99.04" cy="477.65" r="0.75" fill="#141414"/>
<circle cx="100.38" cy="478.45" r="0.75" fill="#141414"/>
<circle cx="100.47" cy="476.81" r="0.75" fill="#141414"/>
<circle cx="102" cy="475.13" r="0.75" fill="#141414"/>
<circle cx="101.42" cy="474.62" r="0.75" fill="#141414"/>
<circle cx="102" cy="477.77" r="0.75" fill="#141414"/>
<circle cx="102.94" cy="472.94" r="0.75" fill="#141414"/>
<circle cx="103.59" cy="476.2" r="0.75" fill="#141414"/>
<circle cx="112.98" cy="479.11" r="0.75" fill="#141414"/>
<circle cx="114.96" cy="478.62" r="0.75" fill="#141414"/>
<circle cx="117.34" cy="475.5" r="0.75" fill="#141414"/>
<circle cx="117.21" cy="479.02" r="0.75" fill="#141414"/>
<circle cx="117.77" cy="476.38" r="0.75" fill="#141414"/>
<circle cx="118.76" cy="477.12" r="0.75" fill="#141414"/>
<circle cx="117.88" cy="476.71" r="0.75" fill="#141414"/>
<circle cx="120.36" cy="467.17" r="0.75" fill="#141414"/>
<circle cx="120.48" cy="467.14" r="0.75" fill="#141414"/>
<circle cx="121.19" cy="467.22" r="0.75" fill="#141414"/>
<circle cx="121.55" cy="469.67" r="0.75" fill="#141414"/>
<circle cx="121.65" cy="462.31" r="0.75" fill="#141414"/>
<circle cx="122.26" cy="462.96" r="0.75" fill="#141414"/>
<circle cx="121.74" cy="462.54" r="0.75" fill="#141414"/>
<circle cx="122.8" cy="471.14" r="0.75" fill="#141414"/>
<circle cx="122.02" cy="464.85" r="0.75" fill="#141414"/>
<circle cx="128.24" cy="481.65" r="0.75" fill="#141414"/>
<circle cx="130.26" cy="480.2" r="0.75" fill="#141414"/>
<circle cx="131.08" cy="479.83" r="0.75" fill="#141414"/>
<circle cx="131.96" cy="479.4" r="0.75" fill="#141414"/>
<circle cx="135.37" cy="473.62" r="0.75" fill="#141414"/>
<circle cx="135.3" cy="467.92" r="0.75" fill="#141414"/>
<circle cx="135.28" cy="470.21" r="0.75" fill="#141414"/>
<circle cx="135.04" cy="469" r="0.75" fill="#141414"/>
<circle cx="137.1" cy="474.6" r="0.75" fill="#141414"/>
<circle cx="138.15" cy="475.99" r="0.75" fill="#141414"/>
<circle cx="139.18" cy="475.42" r="0.75" fill="#141414"/>
<circle cx="138.6" cy="475.31" r="0.75" fill="#141414"/>
<circle cx="139.01" cy="474.39" r="0.75" fill="#141414"/>
<circle cx="140.43" cy="469.91" r="0.75" fill="#141414"/>
<circle cx="139.92" cy="471.82" r="0.75" fill="#141414"/>
<circle cx="140.07" cy="470.67" r="0.75" fill="#141414"/>
<circle cx="141.16" cy="468.03" r="0.75" fill="#141414"/>
<circle cx="140.85" cy="464.53" r="0.75" fill="#141414"/>
<circle cx="141.31" cy="468.64" r="0.75" fill="#141414"/>
<circle cx="141.28" cy="466.63" r="0.75" fill="#141414"/>
<circle cx="141.81" cy="469.02" r="0.75" fill="#141414"/>
<circle cx="144.15" cy="461.85" r="0.75" fill="#141414"/>
<circle cx="144.45" cy="456.49" r="0.75" fill="#141414"/>
<circle cx="144.1" cy="461.65" r="0.75" fill="#141414"/>
<circle cx="144.31" cy="455.96" r="0.75" fill="#141414"/>
<circle cx="143.9" cy="457.83" r="0.75" fill="#141414"/>
<circle cx="144.61" cy="461.86" r="0.75" fill="#141414"/>
<circle cx="156.49" cy="480.63" r="0.75" fill="#141414"/>
<circle cx="159.98" cy="480.03" r="0.75" fill="#141414"/>
<circle cx="161.56" cy="481.88" r="0.75" fill="#141414"/>
<circle cx="164.78" cy="478.42" r="0.75" fill="#141414"/>
<circle cx="167.55" cy="479.73" r="0.75" fill="#141414"/>
<circle cx="168.66" cy="478.28" r="0.75" fill="#141414"/>
<circle cx="167.84" cy="473.59" r="0.75" fill="#141414"/>
<circle cx="169.46" cy="476.99" r="0.75" fill="#141414"/>
<circle cx="169.87" cy="479.97" r="0.75" fill="#141414"/>
<circle cx="170.84" cy="477.49" r="0.75" fill="#141414"/>
<circle cx="170.55" cy="476.97" r="0.75" fill="#141414"/>
<circle cx="173.54" cy="477.7" r="0.75" fill="#141414"/>
<circle cx="173.2" cy="474.11" r="0.75" fill="#141414"/>
<circle cx="175.26" cy="469.04" r="0.75" fill="#141414"/>
<circle cx="174.25" cy="468.77" r="0.75" fill="#141414"/>
<circle cx="174.61" cy="470.17" r="0.75" fill="#141414"/>
<circle cx="175.79" cy="466.97" r="0.75" fill="#141414"/>
<circle cx="176.25" cy="465.6" r="0.75" fill="#141414"/>
<circle cx="175.75" cy="466.15" r="0.75" fill="#141414"/>
<circle cx="176.64" cy="467" r="0.75" fill="#141414"/>
<circle cx="176.84" cy="464.84" r="0.75" fill="#141414"/>
<circle cx="177.14" cy="461.91" r="0.75" fill="#141414"/>
<circle cx="177.56" cy="463.89" r="0.75" fill="#141414"/>
<circle cx="176.92" cy="462.85" r="0.75" fill="#141414"/>
<circle cx="177.5" cy="468.95" r="0.75" fill="#141414"/>
<circle cx="179.41" cy="473.87" r="0.75" fill="#141414"/>
<circle cx="179.43" cy="477.37" r="0.75" fill="#141414"/>
<circle cx="181.3" cy="468.09" r="0.75" fill="#141414"/>
<circle cx="181.36" cy="469.13" r="0.75" fill="#141414"/>
<circle cx="180.93" cy="472.12" r="0.75" fill="#141414"/>
<circle cx="180.62" cy="466.38" r="0.75" fill="#141414"/>
<circle cx="182.51" cy="466.83" r="0.75" fill="#141414"/>
<circle cx="182.27" cy="471.69" r="0.75" fill="#141414"/>
<circle cx="182.31" cy="465.47" r="0.75" fill="#141414"/>
<circle cx="181.87" cy="469.24" r="0.75" fill="#141414"/>
<circle cx="184.08" cy="459.04" r="0.75" fill="#141414"/>
<circle cx="183.52" cy="458.15" r="0.75" fill="#141414"/>
<circle cx="183.79" cy="451.42" r="0.75" fill="#141414"/>
<circle cx="183.55" cy="450.05" r="0.75" fill="#141414"/>
<circle cx="183.24" cy="460.57" r="0.75" fill="#141414"/>
<circle cx="183.22" cy="463.45" r="0.75" fill="#141414"/>
<circle cx="184.09" cy="452.23" r="0.75" fill="#141414"/>
<circle cx="183.33" cy="462.06" r="0.75" fill="#141414"/>
<circle cx="185.33" cy="441.99" r="0.75" fill="#141414"/>
<circle cx="185.34" cy="447.08" r="0.75" fill="#141414"/>
<circle cx="184.56" cy="451.48" r="0.75" fill="#141414"/>
<circle cx="184.62" cy="448.54" r="0.75" fill="#141414"/>
<circle cx="185.1" cy="455.94" r="0.75" fill="#141414"/>
<circle cx="184.7" cy="442.76" r="0.75" fill="#141414"/>
<circle cx="184.41" cy="442.28" r="0.75" fill="#141414"/>
<circle cx="185.52" cy="438.95" r="0.75" fill="#141414"/>
<circle cx="184.87" cy="447.97" r="0.75" fill="#141414"/>
<circle cx="185.12" cy="446.13" r="0.75" fill="#141414"/>
<circle cx="191.16" cy="476.95" r="0.75" fill="#141414"/>
<circle cx="192.83" cy="477.07" r="0.75" fill="#141414"/>
<circle cx="192.07" cy="476.86" r="0.75" fill="#141414"/>
<circle cx="193.97" cy="476.63" r="0.75" fill="#141414"/>
<circle cx="193.93" cy="478.48" r="0.75" fill="#141414"/>
<circle cx="194.67" cy="473.51" r="0.75" fill="#141414"/>
<circle cx="195.45" cy="473.94" r="0.75" fill="#141414"/>
<circle cx="195.35" cy="470.01" r="0.75" fill="#141414"/>
<circle cx="198.2" cy="471.4" r="0.75" fill="#141414"/>
<circle cx="197.25" cy="473.59" r="0.75" fill="#141414"/>
<circle cx="197.49" cy="475.93" r="0.75" fill="#141414"/>
<circle cx="199.66" cy="469.66" r="0.75" fill="#141414"/>
<circle cx="199.58" cy="465.48" r="0.75" fill="#141414"/>
<circle cx="198.64" cy="463.64" r="0.75" fill="#141414"/>
<circle cx="199.24" cy="462.86" r="0.75" fill="#141414"/>
<circle cx="199.38" cy="464.97" r="0.75" fill="#141414"/>
<circle cx="200.78" cy="465.18" r="0.75" fill="#141414"/>
<circle cx="200.85" cy="470.17" r="0.75" fill="#141414"/>
<circle cx="200.72" cy="469.69" r="0.75" fill="#141414"/>
<circle cx="199.89" cy="474.15" r="0.75" fill="#141414"/>
<circle cx="201.29" cy="470.45" r="0.75" fill="#141414"/>
<circle cx="201.67" cy="463.95" r="0.75" fill="#141414"/>
<circle cx="201.72" cy="467.29" r="0.75" fill="#141414"/>
<circle cx="201.86" cy="468.71" r="0.75" fill="#141414"/>
<circle cx="201.62" cy="463.25" r="0.75" fill="#141414"/>
<circle cx="202.54" cy="447.08" r="0.75" fill="#141414"/>
<circle cx="203.23" cy="457.33" r="0.75" fill="#141414"/>
<circle cx="202.79" cy="454.2" r="0.75" fill="#141414"/>
<circle cx="203.07" cy="460.09" r="0.75" fill="#141414"/>
<circle cx="202.31" cy="460.37" r="0.75" fill="#141414"/>
<circle cx="203.31" cy="461.64" r="0.75" fill="#141414"/>
<circle cx="202.9" cy="460.64" r="0.75" fill="#141414"/>
<circle cx="202.58" cy="461.11" r="0.75" fill="#141414"/>
<circle cx="203.81" cy="475.96" r="0.75" fill="#141414"/>
<circle cx="203.73" cy="474.74" r="0.75" fill="#141414"/>
<circle cx="204.22" cy="475.68" r="0.75" fill="#141414"/>
<circle cx="205.45" cy="465.45" r="0.75" fill="#141414"/>
<circle cx="205.77" cy="470.23" r="0.75" fill="#141414"/>
<circle cx="205.39" cy="465.6" r="0.75" fill="#141414"/>
<circle cx="204.91" cy="457.98" r="0.75" fill="#141414"/>
<circle cx="205.15" cy="469.65" r="0.75" fill="#141414"/>
<circle cx="206.36" cy="457.17" r="0.75" fill="#141414"/>
<circle cx="206.6" cy="465.4" r="0.75" fill="#141414"/>
<circle cx="206.22" cy="455.43" r="0.75" fill="#141414"/>
<circle cx="206.51" cy="454.44" r="0.75" fill="#141414"/>
<circle cx="206.75" cy="452.04" r="0.75" fill="#141414"/>
<circle cx="206.54" cy="463.32" r="0.75" fill="#141414"/>
<circle cx="206.49" cy="454" r="0.75" fill="#141414"/>
<circle cx="211.72" cy="481.43" r="0.75" fill="#141414"/>
<circle cx="213.8" cy="476.45" r="0.75" fill="#141414"/>
<circle cx="212.56" cy="479.54" r="0.75" fill="#141414"/>
<circle cx="214.06" cy="480.69" r="0.75" fill="#141414"/>
<circle cx="215.96" cy="470.49" r="0.75" fill="#141414"/>
<circle cx="215.38" cy="469.93" r="0.75" fill="#141414"/>
<circle cx="215.73" cy="471.23" r="0.75" fill="#141414"/>
<circle cx="219.35" cy="463.92" r="0.75" fill="#141414"/>
<circle cx="220.18" cy="470.53" r="0.75" fill="#141414"/>
<circle cx="219.34" cy="460.82" r="0.75" fill="#141414"/>
<circle cx="219.11" cy="466.68" r="0.75" fill="#141414"/>
<circle cx="219.39" cy="462.98" r="0.75" fill="#141414"/>
<circle cx="222.47" cy="444.28" r="0.75" fill="#141414"/>
<circle cx="222.6" cy="448.34" r="0.75" fill="#141414"/>
<circle cx="222.71" cy="452.63" r="0.75" fill="#141414"/>
<circle cx="222.06" cy="455.63" r="0.75" fill="#141414"/>
<circle cx="222.52" cy="449.98" r="0.75" fill="#141414"/>
<circle cx="221.87" cy="456.97" r="0.75" fill="#141414"/>
<circle cx="222.45" cy="447.16" r="0.75" fill="#141414"/>
<circle cx="222.44" cy="452.09" r="0.75" fill="#141414"/>
<circle cx="222.15" cy="457.33" r="0.75" fill="#141414"/>
<circle cx="222.44" cy="460.28" r="0.75" fill="#141414"/>
<circle cx="223.78" cy="454.29" r="0.75" fill="#141414"/>
<circle cx="222.93" cy="462.04" r="0.75" fill="#141414"/>
<circle cx="223.89" cy="454.9" r="0.75" fill="#141414"/>
<circle cx="223.93" cy="450.85" r="0.75" fill="#141414"/>
<circle cx="223.38" cy="450.42" r="0.75" fill="#141414"/>
<circle cx="223.74" cy="460.34" r="0.75" fill="#141414"/>
<circle cx="223.28" cy="464.95" r="0.75" fill="#141414"/>
<circle cx="225.31" cy="460.22" r="0.75" fill="#141414"/>
<circle cx="224.82" cy="460.11" r="0.75" fill="#141414"/>
<circle cx="224.19" cy="448.78" r="0.75" fill="#141414"/>
<circle cx="224.4" cy="461.4" r="0.75" fill="#141414"/>
<circle cx="224.28" cy="448.87" r="0.75" fill="#141414"/>
<circle cx="224.84" cy="462.19" r="0.75" fill="#141414"/>
<circle cx="224.38" cy="442.09" r="0.75" fill="#141414"/>
<circle cx="224.37" cy="450.6" r="0.75" fill="#141414"/>
<circle cx="224.62" cy="446" r="0.75" fill="#141414"/>
<line x1="61.1" y1="343.6" x2="61.1" y2="486.4" stroke="#000" stroke-width="1.6"/>
<line x1="60.6" y1="485.4" x2="225.4" y2="485.4" stroke="#000" stroke-width="1.4"/>
<line x1="61.4" y1="343.6" x2="62.8" y2="343.6" stroke="#000" stroke-width="1.2"/>
<line x1="61.4" y1="372" x2="62.8" y2="372" stroke="#000" stroke-width="1.2"/>
<line x1="61.4" y1="400.4" x2="62.8" y2="400.4" stroke="#000" stroke-width="1.2"/>
<line x1="61.4" y1="429" x2="62.8" y2="429" stroke="#000" stroke-width="1.2"/>
<line x1="61.4" y1="457.5" x2="62.8" y2="457.5" stroke="#000" stroke-width="1.2"/>
<circle cx="100.8" cy="438.3" r="1.45" fill="#dc1f26"/>
<circle cx="102.1" cy="443.8" r="1.45" fill="#dc1f26"/>
<circle cx="122.3" cy="457.9" r="1.45" fill="#dc1f26"/>
<circle cx="121.3" cy="460.8" r="1.45" fill="#dc1f26"/>
<circle cx="139" cy="448.3" r="1.45" fill="#dc1f26"/>
<circle cx="121.7" cy="471.5" r="1.45" fill="#dc1f26"/>
<circle cx="121.7" cy="476" r="1.45" fill="#dc1f26"/>
<circle cx="132.9" cy="475.8" r="1.45" fill="#dc1f26"/>
<circle cx="132.9" cy="471" r="1.45" fill="#dc1f26"/>
<circle cx="136.7" cy="472.3" r="1.45" fill="#dc1f26"/>
<circle cx="140.6" cy="464.2" r="1.45" fill="#dc1f26"/>
<circle cx="143.3" cy="393.6" r="1.45" fill="#dc1f26"/>
<circle cx="142.4" cy="410.5" r="1.45" fill="#dc1f26"/>
<circle cx="143.3" cy="415.6" r="1.45" fill="#dc1f26"/>
<circle cx="143.3" cy="423.8" r="1.45" fill="#dc1f26"/>
<circle cx="143.3" cy="433.3" r="1.45" fill="#dc1f26"/>
<circle cx="143.1" cy="438" r="1.45" fill="#dc1f26"/>
<circle cx="143.1" cy="441" r="1.45" fill="#dc1f26"/>
<circle cx="143.1" cy="444" r="1.45" fill="#dc1f26"/>
<circle cx="142.8" cy="447" r="1.45" fill="#dc1f26"/>
<circle cx="143.2" cy="450" r="1.45" fill="#dc1f26"/>
<circle cx="143" cy="453" r="1.45" fill="#dc1f26"/>
<circle cx="143.2" cy="456" r="1.45" fill="#dc1f26"/>
<circle cx="142.8" cy="459" r="1.45" fill="#dc1f26"/>
<circle cx="143" cy="462" r="1.45" fill="#dc1f26"/>
<circle cx="143.4" cy="465" r="1.45" fill="#dc1f26"/>
<circle cx="142.6" cy="468" r="1.45" fill="#dc1f26"/>
<circle cx="141.8" cy="470.5" r="1.45" fill="#dc1f26"/>
<circle cx="158.8" cy="466" r="1.45" fill="#dc1f26"/>
<circle cx="180.8" cy="449" r="1.45" fill="#dc1f26"/>
<circle cx="184" cy="452" r="1.45" fill="#dc1f26"/>
<circle cx="183.5" cy="455" r="1.45" fill="#dc1f26"/>
<circle cx="182.3" cy="458" r="1.45" fill="#dc1f26"/>
<circle cx="184.5" cy="461" r="1.45" fill="#dc1f26"/>
<circle cx="183.5" cy="464" r="1.45" fill="#dc1f26"/>
<circle cx="184.6" cy="467" r="1.45" fill="#dc1f26"/>
<circle cx="182.4" cy="470" r="1.45" fill="#dc1f26"/>
<circle cx="181" cy="473" r="1.45" fill="#dc1f26"/>
<circle cx="178.5" cy="476" r="1.45" fill="#dc1f26"/>
<circle cx="198.5" cy="437.3" r="1.45" fill="#dc1f26"/>
<circle cx="194.7" cy="464.9" r="1.45" fill="#dc1f26"/>
<circle cx="198.5" cy="468.8" r="1.45" fill="#dc1f26"/>
<circle cx="196" cy="472" r="1.45" fill="#dc1f26"/>
<circle cx="204" cy="387.6" r="1.45" fill="#dc1f26"/>
<circle cx="205.1" cy="432.4" r="1.45" fill="#dc1f26"/>
<circle cx="203.3" cy="440.6" r="1.45" fill="#dc1f26"/>
<circle cx="205" cy="443.5" r="1.45" fill="#dc1f26"/>
<circle cx="205.2" cy="446.5" r="1.45" fill="#dc1f26"/>
<circle cx="204.8" cy="449.5" r="1.45" fill="#dc1f26"/>
<circle cx="205.2" cy="452.5" r="1.45" fill="#dc1f26"/>
<circle cx="204.6" cy="455.5" r="1.45" fill="#dc1f26"/>
<circle cx="205.2" cy="458.5" r="1.45" fill="#dc1f26"/>
<circle cx="204.8" cy="461.5" r="1.45" fill="#dc1f26"/>
<circle cx="205.2" cy="464.5" r="1.45" fill="#dc1f26"/>
<circle cx="204.2" cy="467.5" r="1.45" fill="#dc1f26"/>
<circle cx="205" cy="470.5" r="1.45" fill="#dc1f26"/>
<circle cx="203.6" cy="473.5" r="1.45" fill="#dc1f26"/>
<circle cx="219" cy="409.3" r="1.45" fill="#dc1f26"/>
<circle cx="224.5" cy="453.4" r="1.45" fill="#dc1f26"/>
<circle cx="224" cy="456.5" r="1.45" fill="#dc1f26"/>
<circle cx="224.6" cy="459.5" r="1.45" fill="#dc1f26"/>
<circle cx="223.8" cy="462.5" r="1.45" fill="#dc1f26"/>
<circle cx="224.5" cy="465.5" r="1.45" fill="#dc1f26"/>
<circle cx="222.5" cy="468.5" r="1.45" fill="#dc1f26"/>
<circle cx="223.6" cy="471.5" r="1.45" fill="#dc1f26"/>
<path d="M328.4,496 L329,488 L332,484 L337,479.5 L342,475.5 L346,473.5 L347.5,476 L344.5,481.5 L340.5,487 L336.5,491.5 L333,494.5 L330,496Z" fill="#141414" opacity="0.9" filter="url(#b5)"/>
<circle cx="349.2" cy="437.5" r="1.5" fill="#dc1f26"/>
<circle cx="344.9" cy="440.9" r="1.5" fill="#dc1f26"/>
<circle cx="341.5" cy="443.1" r="1.5" fill="#dc1f26"/>
<circle cx="340.6" cy="455.8" r="1.5" fill="#dc1f26"/>
<circle cx="343.8" cy="455.8" r="1.5" fill="#dc1f26"/>
<circle cx="335.1" cy="463.3" r="1.5" fill="#dc1f26"/>
<circle cx="346.5" cy="460.9" r="1.5" fill="#dc1f26"/>
<circle cx="348.9" cy="461.7" r="1.5" fill="#dc1f26"/>
<circle cx="352.1" cy="459.7" r="1.5" fill="#dc1f26"/>
<circle cx="331.9" cy="470.4" r="1.5" fill="#dc1f26"/>
<circle cx="333.9" cy="471.6" r="1.5" fill="#dc1f26"/>
<circle cx="336.3" cy="472.8" r="1.5" fill="#dc1f26"/>
<circle cx="339.8" cy="468.8" r="1.5" fill="#dc1f26"/>
<circle cx="342.2" cy="469.2" r="1.5" fill="#dc1f26"/>
<circle cx="344.6" cy="470" r="1.5" fill="#dc1f26"/>
<circle cx="341.8" cy="473.2" r="1.5" fill="#dc1f26"/>
<circle cx="335.5" cy="476.7" r="1.5" fill="#dc1f26"/>
<circle cx="337.5" cy="477.5" r="1.5" fill="#dc1f26"/>
<circle cx="329.2" cy="481.9" r="1.5" fill="#dc1f26"/>
<circle cx="331.5" cy="483.4" r="1.5" fill="#dc1f26"/>
<circle cx="333.5" cy="485" r="1.5" fill="#dc1f26"/>
<circle cx="330.7" cy="486.6" r="1.5" fill="#dc1f26"/>
<circle cx="329.2" cy="487.4" r="1.5" fill="#dc1f26"/>
<circle cx="334.7" cy="480.3" r="1.5" fill="#dc1f26"/>
<circle cx="348.9" cy="484.2" r="1.5" fill="#dc1f26"/>
<circle cx="337.8" cy="481" r="1.5" fill="#dc1f26"/>
<circle cx="382" cy="395" r="1.5" fill="#dc1f26"/>
<circle cx="390.8" cy="395" r="1.5" fill="#dc1f26"/>
<circle cx="408.8" cy="366.2" r="1.5" fill="#dc1f26"/>
<circle cx="330.5" cy="474.5" r="1.5" fill="#dc1f26"/>
<circle cx="329.3" cy="477.5" r="1.5" fill="#dc1f26"/>
<circle cx="332.5" cy="478.5" r="1.5" fill="#dc1f26"/>
<circle cx="329.5" cy="491" r="1.5" fill="#dc1f26"/>
<circle cx="331" cy="489.5" r="1.5" fill="#dc1f26"/>
<circle cx="330" cy="493.5" r="1.5" fill="#dc1f26"/>
<circle cx="339.5" cy="475.5" r="1.5" fill="#dc1f26"/>
<circle cx="338.5" cy="466.5" r="1.5" fill="#dc1f26"/>
<circle cx="333" cy="467.5" r="1.5" fill="#dc1f26"/>
<circle cx="333.06" cy="482.95" r="1.5" fill="#dc1f26"/>
<circle cx="329.85" cy="491.16" r="1.5" fill="#dc1f26"/>
<circle cx="335.17" cy="469.11" r="1.5" fill="#dc1f26"/>
<circle cx="329.46" cy="491.08" r="1.5" fill="#dc1f26"/>
<circle cx="335.25" cy="480.42" r="1.5" fill="#dc1f26"/>
<circle cx="333.22" cy="483.96" r="1.5" fill="#dc1f26"/>
<circle cx="328.76" cy="493.6" r="1.5" fill="#dc1f26"/>
<circle cx="329.7" cy="490.79" r="1.5" fill="#dc1f26"/>
<circle cx="328.49" cy="492.43" r="1.5" fill="#dc1f26"/>
<circle cx="330.8" cy="489.04" r="1.5" fill="#dc1f26"/>
<circle cx="334.2" cy="477.3" r="1.5" fill="#dc1f26"/>
<circle cx="332.05" cy="484.72" r="1.5" fill="#dc1f26"/>
<circle cx="332.29" cy="481.4" r="1.5" fill="#dc1f26"/>
<circle cx="329.31" cy="490.39" r="1.5" fill="#dc1f26"/>
<circle cx="328.46" cy="490.61" r="1.5" fill="#dc1f26"/>
<circle cx="335.73" cy="471.16" r="1.5" fill="#dc1f26"/>
<circle cx="330.67" cy="485.02" r="1.5" fill="#dc1f26"/>
<circle cx="333.86" cy="484.3" r="1.5" fill="#dc1f26"/>
<circle cx="330.81" cy="489.24" r="1.5" fill="#dc1f26"/>
<circle cx="331.95" cy="483.56" r="1.5" fill="#dc1f26"/>
<circle cx="329.35" cy="486.94" r="1.5" fill="#dc1f26"/>
<circle cx="331.48" cy="484.69" r="1.5" fill="#dc1f26"/>
<circle cx="332.34" cy="482.24" r="1.5" fill="#dc1f26"/>
<circle cx="332.35" cy="481.48" r="1.5" fill="#dc1f26"/>
<circle cx="329.11" cy="492.99" r="1.5" fill="#dc1f26"/>
<circle cx="328.43" cy="493.03" r="1.5" fill="#dc1f26"/>
<circle cx="330.87" cy="489.31" r="1.5" fill="#dc1f26"/>
<circle cx="330.84" cy="486.65" r="1.5" fill="#dc1f26"/>
<circle cx="354" cy="464" r="1" fill="#141414"/>
<circle cx="355.5" cy="466" r="1" fill="#141414"/>
<circle cx="353" cy="468.5" r="1" fill="#141414"/>
<circle cx="356" cy="470.5" r="1" fill="#141414"/>
<circle cx="350.5" cy="472" r="1" fill="#141414"/>
<circle cx="352.5" cy="475.5" r="1" fill="#141414"/>
<circle cx="349" cy="478.5" r="1" fill="#141414"/>
<circle cx="354" cy="478" r="1" fill="#141414"/>
<circle cx="351" cy="481" r="1" fill="#141414"/>
<circle cx="347" cy="470" r="1" fill="#141414"/>
<circle cx="345" cy="477" r="1" fill="#141414"/>
<circle cx="352.1" cy="467.2" r="1" fill="#141414"/>
<circle cx="353.6" cy="471.6" r="1" fill="#141414"/>
<circle cx="351.3" cy="474.4" r="1" fill="#141414"/>
<circle cx="352.5" cy="478.3" r="1" fill="#141414"/>
<circle cx="348.9" cy="467.6" r="1" fill="#141414"/>
<circle cx="346.5" cy="473.2" r="1" fill="#141414"/>
<circle cx="351.7" cy="485.8" r="1" fill="#141414"/>
<circle cx="347" cy="489" r="1" fill="#141414"/>
<circle cx="343.8" cy="490.1" r="1" fill="#141414"/>
<circle cx="355" cy="463" r="1" fill="#141414"/>
<circle cx="354.5" cy="461" r="1" fill="#141414"/>
<circle cx="350" cy="470" r="1" fill="#141414"/>
<circle cx="349.5" cy="476" r="1" fill="#141414"/>
<circle cx="347.5" cy="481" r="1" fill="#141414"/>
<circle cx="345" cy="485" r="1" fill="#141414"/>
<circle cx="342" cy="488.5" r="1" fill="#141414"/>
<circle cx="335.51" cy="488.52" r="1" fill="#141414"/>
<circle cx="334.18" cy="490.96" r="1" fill="#141414"/>
<circle cx="336.12" cy="488.57" r="1" fill="#141414"/>
<circle cx="331.17" cy="492.66" r="1" fill="#141414"/>
<circle cx="335.46" cy="490.94" r="1" fill="#141414"/>
<circle cx="332.5" cy="491.6" r="1" fill="#141414"/>
<circle cx="337.31" cy="485.55" r="1" fill="#141414"/>
<circle cx="328.99" cy="495.47" r="1" fill="#141414"/>
<circle cx="343.33" cy="482.27" r="1" fill="#141414"/>
<circle cx="332.96" cy="492.61" r="1" fill="#141414"/>
<circle cx="328.95" cy="495.45" r="1" fill="#141414"/>
<circle cx="330.4" cy="494.08" r="1" fill="#141414"/>
<circle cx="329.98" cy="494.22" r="1" fill="#141414"/>
<circle cx="334.77" cy="489.51" r="1" fill="#141414"/>
<circle cx="338.8" cy="484.4" r="1" fill="#141414"/>
<circle cx="336.65" cy="488.23" r="1" fill="#141414"/>
<circle cx="336.96" cy="487.64" r="1" fill="#141414"/>
<circle cx="332.92" cy="491.39" r="1" fill="#141414"/>
<circle cx="347.58" cy="477.46" r="1" fill="#141414"/>
<circle cx="333.29" cy="492.54" r="1" fill="#141414"/>
<circle cx="330.07" cy="494.13" r="1" fill="#141414"/>
<circle cx="328.93" cy="495.43" r="1" fill="#141414"/>
<circle cx="328.99" cy="495.58" r="1" fill="#141414"/>
<circle cx="331.67" cy="493.36" r="1" fill="#141414"/>
<circle cx="339.27" cy="486.48" r="1" fill="#141414"/>
<circle cx="332.38" cy="492.11" r="1" fill="#141414"/>
<circle cx="333.93" cy="491.28" r="1" fill="#141414"/>
<circle cx="334.2" cy="490.48" r="1" fill="#141414"/>
<circle cx="335.74" cy="487.92" r="1" fill="#141414"/>
<circle cx="329.22" cy="495.36" r="1" fill="#141414"/>
<circle cx="332.86" cy="491.23" r="1" fill="#141414"/>
<circle cx="337.94" cy="487.41" r="1" fill="#141414"/>
<circle cx="331.62" cy="492.52" r="1" fill="#141414"/>
<circle cx="330.04" cy="494.33" r="1" fill="#141414"/>
<circle cx="329.45" cy="495.12" r="1" fill="#141414"/>
<circle cx="334.29" cy="490.72" r="1" fill="#141414"/>
<circle cx="331.83" cy="491.59" r="1" fill="#141414"/>
<circle cx="334.07" cy="489.25" r="1" fill="#141414"/>
<circle cx="332.91" cy="490.95" r="1" fill="#141414"/>
<circle cx="329.46" cy="494.78" r="1" fill="#141414"/>
<circle cx="338.7" cy="486.61" r="1" fill="#141414"/>
<circle cx="332.43" cy="490.45" r="1" fill="#141414"/>
<circle cx="329.82" cy="494.31" r="1" fill="#141414"/>
<circle cx="333.47" cy="492.22" r="1" fill="#141414"/>
<circle cx="342.54" cy="477.22" r="1" fill="#141414"/>
<circle cx="329.42" cy="494.83" r="1" fill="#141414"/>
<circle cx="329.13" cy="495.45" r="1" fill="#141414"/>
<circle cx="329.05" cy="495.31" r="1" fill="#141414"/>
<circle cx="334.88" cy="488.75" r="1" fill="#141414"/>
<circle cx="328.74" cy="495.53" r="1" fill="#141414"/>
<circle cx="332.82" cy="490.98" r="1" fill="#141414"/>
<circle cx="334.86" cy="490.08" r="1" fill="#141414"/>
<circle cx="338.8" cy="487.72" r="1" fill="#141414"/>
<circle cx="329.77" cy="494.5" r="1" fill="#141414"/>
<circle cx="337.39" cy="489.02" r="1" fill="#141414"/>
<circle cx="328.41" cy="495.97" r="1" fill="#141414"/>
<circle cx="329.31" cy="495.63" r="1" fill="#141414"/>
<circle cx="333.08" cy="489.23" r="1" fill="#141414"/>
<circle cx="334.23" cy="491.39" r="1" fill="#141414"/>
<circle cx="330.79" cy="493.56" r="1" fill="#141414"/>
<circle cx="342.86" cy="480.11" r="1" fill="#141414"/>
<circle cx="329.05" cy="495.11" r="1" fill="#141414"/>
<circle cx="328.87" cy="495.3" r="1" fill="#141414"/>
<circle cx="332.38" cy="492.51" r="1" fill="#141414"/>
<circle cx="332.58" cy="490.7" r="1" fill="#141414"/>
<circle cx="332.19" cy="492.06" r="1" fill="#141414"/>
<circle cx="338.98" cy="487.17" r="1" fill="#141414"/>
<circle cx="331.94" cy="492.93" r="1" fill="#141414"/>
<circle cx="331.8" cy="492.92" r="1" fill="#141414"/>
<circle cx="332.97" cy="491.46" r="1" fill="#141414"/>
<circle cx="330.33" cy="494.07" r="1" fill="#141414"/>
<circle cx="330.89" cy="493.13" r="1" fill="#141414"/>
<circle cx="331.17" cy="493.43" r="1" fill="#141414"/>
<circle cx="336.32" cy="485.72" r="1" fill="#141414"/>
<circle cx="336.83" cy="488.07" r="1" fill="#141414"/>
<circle cx="331.17" cy="494.01" r="1" fill="#141414"/>
<circle cx="329.38" cy="495" r="1" fill="#141414"/>
<circle cx="341.08" cy="483" r="1" fill="#141414"/>
<circle cx="332.92" cy="493.85" r="1" fill="#141414"/>
<circle cx="336.59" cy="487.7" r="1" fill="#141414"/>
<circle cx="337.75" cy="486.54" r="1" fill="#141414"/>
<circle cx="337.74" cy="480.39" r="1" fill="#141414"/>
<circle cx="334.9" cy="488.91" r="1" fill="#141414"/>
<circle cx="329.41" cy="495.52" r="1" fill="#141414"/>
<circle cx="329.13" cy="495.58" r="1" fill="#141414"/>
<circle cx="331.86" cy="494.15" r="1" fill="#141414"/>
<circle cx="333.67" cy="489.55" r="1" fill="#141414"/>
<circle cx="337.95" cy="488.93" r="1" fill="#141414"/>
<circle cx="337.31" cy="485.74" r="1" fill="#141414"/>
<circle cx="333.35" cy="492.16" r="1" fill="#141414"/>
<circle cx="332.43" cy="492.64" r="1" fill="#141414"/>
<circle cx="335.31" cy="490.2" r="1" fill="#141414"/>
<circle cx="335.66" cy="487.9" r="1" fill="#141414"/>
<circle cx="340.35" cy="484.54" r="1" fill="#141414"/>
<circle cx="329.18" cy="495.43" r="1" fill="#141414"/>
<circle cx="329.11" cy="495.54" r="1" fill="#141414"/>
<circle cx="338.72" cy="484.49" r="1" fill="#141414"/>
<circle cx="336.76" cy="486.43" r="1" fill="#141414"/>
<circle cx="336.14" cy="488.05" r="1" fill="#141414"/>
<circle cx="332.57" cy="491.86" r="1" fill="#141414"/>
<circle cx="330.57" cy="494.4" r="1" fill="#141414"/>
<circle cx="338.23" cy="489.31" r="1" fill="#141414"/>
<circle cx="328.43" cy="495.97" r="1" fill="#141414"/>
<circle cx="331.15" cy="492.49" r="1" fill="#141414"/>
<circle cx="329.43" cy="494.85" r="1" fill="#141414"/>
<circle cx="335.48" cy="490.26" r="1" fill="#141414"/>
<circle cx="339.84" cy="483.12" r="1" fill="#141414"/>
<circle cx="332.4" cy="491.03" r="1" fill="#141414"/>
<circle cx="330.36" cy="493.67" r="1" fill="#141414"/>
<circle cx="332.83" cy="493.56" r="1" fill="#141414"/>
<circle cx="332.57" cy="492.5" r="1" fill="#141414"/>
<circle cx="332.79" cy="492.11" r="1" fill="#141414"/>
<circle cx="332.86" cy="490.84" r="1" fill="#141414"/>
<circle cx="334.27" cy="492.24" r="1" fill="#141414"/>
<circle cx="331.83" cy="494.34" r="1" fill="#141414"/>
<circle cx="328.99" cy="495.34" r="1" fill="#141414"/>
<circle cx="332.83" cy="491.45" r="1" fill="#141414"/>
<circle cx="329.74" cy="494.39" r="1" fill="#141414"/>
<circle cx="333.17" cy="492.15" r="1" fill="#141414"/>
<circle cx="332.83" cy="490.09" r="1" fill="#141414"/>
<circle cx="334.73" cy="489.98" r="1" fill="#141414"/>
<circle cx="329.71" cy="494.7" r="1" fill="#141414"/>
<circle cx="329.57" cy="494.91" r="1" fill="#141414"/>
<circle cx="330.34" cy="494.64" r="1" fill="#141414"/>
<circle cx="332.12" cy="491.1" r="1" fill="#141414"/>
<circle cx="331.51" cy="492.92" r="1" fill="#141414"/>
<circle cx="329.64" cy="494.77" r="1" fill="#141414"/>
<circle cx="330.45" cy="494.29" r="1" fill="#141414"/>
<circle cx="329.54" cy="494.83" r="1" fill="#141414"/>
<circle cx="332.74" cy="492.46" r="1" fill="#141414"/>
<circle cx="334.2" cy="491.59" r="1" fill="#141414"/>
<circle cx="333.57" cy="493.43" r="1" fill="#141414"/>
<circle cx="329.94" cy="494.7" r="1" fill="#141414"/>
<circle cx="332" cy="492.42" r="1" fill="#141414"/>
<circle cx="334.95" cy="489.51" r="1" fill="#141414"/>
<circle cx="329.21" cy="495.34" r="1" fill="#141414"/>
<circle cx="329.14" cy="495.11" r="1" fill="#141414"/>
<circle cx="330.68" cy="494.33" r="1" fill="#141414"/>
<circle cx="335.74" cy="490.46" r="1" fill="#141414"/>
<circle cx="336.47" cy="486.34" r="1" fill="#141414"/>
<circle cx="330.46" cy="494.1" r="1" fill="#141414"/>
<circle cx="336.88" cy="488.84" r="1" fill="#141414"/>
<circle cx="332.77" cy="491.02" r="1" fill="#141414"/>
<circle cx="337.38" cy="490.02" r="1" fill="#141414"/>
<circle cx="333.78" cy="489.76" r="1" fill="#141414"/>
<circle cx="335.93" cy="490.51" r="1" fill="#141414"/>
<circle cx="334.49" cy="490.53" r="1" fill="#141414"/>
<circle cx="330.68" cy="494.04" r="1" fill="#141414"/>
<circle cx="330.28" cy="494.91" r="1" fill="#141414"/>
<circle cx="334.21" cy="491.78" r="1" fill="#141414"/>
<circle cx="331.24" cy="491.98" r="1" fill="#141414"/>
<circle cx="344.27" cy="481.56" r="1" fill="#141414"/>
<circle cx="338.4" cy="487.05" r="1" fill="#141414"/>
<circle cx="333.85" cy="488.49" r="1" fill="#141414"/>
<circle cx="331.71" cy="493.27" r="1" fill="#141414"/>
<circle cx="333.83" cy="490.11" r="1" fill="#141414"/>
<circle cx="337.84" cy="487.78" r="1" fill="#141414"/>
<circle cx="329.78" cy="494.65" r="1" fill="#141414"/>
<circle cx="329.16" cy="495.32" r="1" fill="#141414"/>
<circle cx="329.5" cy="495.08" r="1" fill="#141414"/>
<circle cx="333.6" cy="489.32" r="1" fill="#141414"/>
<circle cx="330.49" cy="493.77" r="1" fill="#141414"/>
<circle cx="337.66" cy="487.26" r="1" fill="#141414"/>
<circle cx="333.16" cy="492.61" r="1" fill="#141414"/>
<circle cx="334.77" cy="490.28" r="1" fill="#141414"/>
<circle cx="330.73" cy="493.79" r="1" fill="#141414"/>
<circle cx="329.66" cy="494.43" r="1" fill="#141414"/>
<circle cx="330.74" cy="492.94" r="1" fill="#141414"/>
<circle cx="332.94" cy="492.43" r="1" fill="#141414"/>
<circle cx="332.53" cy="492.87" r="1" fill="#141414"/>
<circle cx="330.55" cy="493.49" r="1" fill="#141414"/>
<circle cx="335.43" cy="491.65" r="1" fill="#141414"/>
<circle cx="331.33" cy="491.98" r="1" fill="#141414"/>
<circle cx="335.34" cy="489.56" r="1" fill="#141414"/>
<circle cx="331.88" cy="492.81" r="1" fill="#141414"/>
<circle cx="335.09" cy="489.82" r="1" fill="#141414"/>
<circle cx="329.48" cy="494.98" r="1" fill="#141414"/>
<circle cx="335.27" cy="489.61" r="1" fill="#141414"/>
<circle cx="336.87" cy="485.95" r="1" fill="#141414"/>
<circle cx="334.63" cy="490.48" r="1" fill="#141414"/>
<circle cx="329.17" cy="495.32" r="1" fill="#141414"/>
<circle cx="334.22" cy="490.61" r="1" fill="#141414"/>
<circle cx="341.09" cy="485.14" r="1" fill="#141414"/>
<circle cx="329.19" cy="495.02" r="1" fill="#141414"/>
<circle cx="332.72" cy="491.11" r="1" fill="#141414"/>
<circle cx="333.41" cy="493.12" r="1" fill="#141414"/>
<circle cx="333.42" cy="490.97" r="1" fill="#141414"/>
<circle cx="331.29" cy="492.4" r="1" fill="#141414"/>
<circle cx="331.12" cy="493.48" r="1" fill="#141414"/>
<circle cx="328.62" cy="495.81" r="1" fill="#141414"/>
<circle cx="329.83" cy="494.39" r="1" fill="#141414"/>
<circle cx="330.37" cy="494.43" r="1" fill="#141414"/>
<circle cx="333.36" cy="490.05" r="1" fill="#141414"/>
<circle cx="335.84" cy="487.26" r="1" fill="#141414"/>
<circle cx="333.37" cy="490.3" r="1" fill="#141414"/>
<circle cx="328.41" cy="495.97" r="1" fill="#141414"/>
<circle cx="334.51" cy="490.29" r="1" fill="#141414"/>
<circle cx="332.66" cy="491.21" r="1" fill="#141414"/>
<circle cx="331.76" cy="492.79" r="1" fill="#141414"/>
<circle cx="330.72" cy="493.07" r="1" fill="#141414"/>
<circle cx="333" cy="492.39" r="1" fill="#141414"/>
<circle cx="333.14" cy="492.44" r="1" fill="#141414"/>
<circle cx="331.02" cy="493.76" r="1" fill="#141414"/>
<circle cx="329.01" cy="495.7" r="1" fill="#141414"/>
<circle cx="332.54" cy="492.38" r="1" fill="#141414"/>
<circle cx="333.62" cy="488.71" r="1" fill="#141414"/>
<circle cx="332.53" cy="489" r="1" fill="#141414"/>
<circle cx="330.76" cy="493.87" r="1" fill="#141414"/>
<circle cx="329.02" cy="495.14" r="1" fill="#141414"/>
<circle cx="328.55" cy="495.83" r="1" fill="#141414"/>
<circle cx="331.4" cy="493.65" r="1" fill="#141414"/>
<circle cx="329.14" cy="495.37" r="1" fill="#141414"/>
<circle cx="335.63" cy="487.67" r="1" fill="#141414"/>
<circle cx="332.26" cy="492.17" r="1" fill="#141414"/>
<circle cx="333.67" cy="493" r="1" fill="#141414"/>
<circle cx="331.22" cy="493.31" r="1" fill="#141414"/>
<circle cx="338.18" cy="486.57" r="1" fill="#141414"/>
<circle cx="337.24" cy="487.42" r="1" fill="#141414"/>
<circle cx="329.23" cy="495.13" r="1" fill="#141414"/>
<circle cx="329.66" cy="494.73" r="1" fill="#141414"/>
<line x1="328.2" y1="496.2" x2="431.25" y2="344.8" stroke="#a8343c" stroke-width="0.9"/>
<line x1="328.2" y1="496.2" x2="483.2" y2="396.25" stroke="#a8343c" stroke-width="0.9"/>
<line x1="328.2" y1="496.2" x2="483.2" y2="344.8" stroke="#222" stroke-width="0.9"/>
<rect x="328.2" y="344.8" width="155" height="151.4" fill="none" stroke="#333" stroke-width="1"/>
<line x1="328.2" y1="345" x2="330.2" y2="345" stroke="#333" stroke-width="0.8"/>
<line x1="328.2" y1="383" x2="330.2" y2="383" stroke="#333" stroke-width="0.8"/>
<line x1="328.2" y1="420.75" x2="330.2" y2="420.75" stroke="#333" stroke-width="0.8"/>
<line x1="328.2" y1="458" x2="330.2" y2="458" stroke="#333" stroke-width="0.8"/>
<line x1="368" y1="496.2" x2="368" y2="494.2" stroke="#333" stroke-width="0.8"/>
<line x1="406.2" y1="496.2" x2="406.2" y2="494.2" stroke="#333" stroke-width="0.8"/>
<line x1="446.2" y1="496.2" x2="446.2" y2="494.2" stroke="#333" stroke-width="0.8"/>
<line x1="482.6" y1="496.2" x2="482.6" y2="494.2" stroke="#333" stroke-width="0.8"/>
<g opacity="0.995"><text x="0.5" y="13.8" font-size="17" text-anchor="start" font-weight="bold" fill="#000" stroke="#000" stroke-width="0.25">A</text>
<text transform="translate(16.9,36.9) rotate(-90)" x="0" y="3.69" font-size="10.3" text-anchor="middle" fill="#161616" stroke="#161616" stroke-width="0.25">SSC-A</text>
<text x="64.4" y="88.69" font-size="10.3" text-anchor="middle" font-weight="normal" fill="#161616" stroke="#161616" stroke-width="0.25">FSC-A</text>
<text transform="translate(118.7,37) rotate(-90)" x="0" y="3.69" font-size="10.3" text-anchor="middle" fill="#161616" stroke="#161616" stroke-width="0.25">CD14/CD19</text>
<text x="166" y="88.79" font-size="10.3" text-anchor="middle" font-weight="normal" fill="#161616" stroke="#161616" stroke-width="0.25">CD3</text>
<text transform="translate(218.3,38.5) rotate(-90)" x="0" y="3.69" font-size="10.3" text-anchor="middle" fill="#161616" stroke="#161616" stroke-width="0.25">CD56</text>
<text x="266.1" y="89.29" font-size="10.3" text-anchor="middle" font-weight="normal" fill="#161616" stroke="#161616" stroke-width="0.25">CD3</text>
<text x="15.9" y="112.7" font-size="13" text-anchor="start" font-weight="normal" fill="#161616" stroke="#161616" stroke-width="0.25">Donor #1 haplotype A/A</text>
<text x="16.1" y="225.2" font-size="13" text-anchor="start" font-weight="normal" fill="#161616" stroke="#161616" stroke-width="0.25">Donor #2 haplotype B/x</text>
<text transform="translate(18.3,150.5) rotate(-90)" x="0" y="3.69" font-size="10.3" text-anchor="middle" fill="#161616" stroke="#161616" stroke-width="0.25">NKG2A</text>
<text transform="translate(103.8,156.3) rotate(-90)" x="0" y="3.69" font-size="10.3" text-anchor="middle" fill="#161616" stroke="#161616" stroke-width="0.25">NKG2A</text>
<text transform="translate(189.2,151.4) rotate(-90)" x="0" y="3.69" font-size="10.3" text-anchor="middle" fill="#161616" stroke="#161616" stroke-width="0.25">KIR2DL1</text>
<text transform="translate(272,151.2) rotate(-90)" x="0" y="3.69" font-size="10.3" text-anchor="middle" fill="#161616" stroke="#161616" stroke-width="0.25">KIR2DL3</text>
<text transform="translate(358,154.7) rotate(-90)" x="0" y="3.69" font-size="10.3" text-anchor="middle" fill="#161616" stroke="#161616" stroke-width="0.25">KIR2DL2/L3/S2</text>
<text transform="translate(443.6,152.5) rotate(-90)" x="0" y="3.69" font-size="10.3" text-anchor="middle" fill="#161616" stroke="#161616" stroke-width="0.25">KIR2DS4</text>
<text x="58.3" y="199.29" font-size="10.3" text-anchor="middle" font-weight="normal" fill="#161616" stroke="#161616" stroke-width="0.25">CD57</text>
<text x="144.6" y="199.29" font-size="10.3" text-anchor="middle" font-weight="normal" fill="#161616" stroke="#161616" stroke-width="0.25">NKG2C</text>
<text x="228.7" y="199.29" font-size="10.3" text-anchor="middle" font-weight="normal" fill="#161616" stroke="#161616" stroke-width="0.25">KIR2DL1/S1</text>
<text x="310.7" y="199.29" font-size="10.3" text-anchor="middle" font-weight="normal" fill="#161616" stroke="#161616" stroke-width="0.25">KIR2DL2/L3/S2</text>
<text x="398" y="199.29" font-size="10.3" text-anchor="middle" font-weight="normal" fill="#161616" stroke="#161616" stroke-width="0.25">KIR3DL1</text>
<text x="484.3" y="199.09" font-size="10.3" text-anchor="middle" font-weight="normal" fill="#161616" stroke="#161616" stroke-width="0.25">KIR3DL2</text>
<text transform="translate(16.5,263) rotate(-90)" x="0" y="3.69" font-size="10.3" text-anchor="middle" fill="#161616" stroke="#161616" stroke-width="0.25">NKG2A</text>
<text transform="translate(102.7,267) rotate(-90)" x="0" y="3.69" font-size="10.3" text-anchor="middle" fill="#161616" stroke="#161616" stroke-width="0.25">NKG2A</text>
<text transform="translate(188.4,264.3) rotate(-90)" x="0" y="3.69" font-size="10.3" text-anchor="middle" fill="#161616" stroke="#161616" stroke-width="0.25">KIR2DL1</text>
<text transform="translate(271.4,263.9) rotate(-90)" x="0" y="3.69" font-size="10.3" text-anchor="middle" fill="#161616" stroke="#161616" stroke-width="0.25">KIR2DL3</text>
<text transform="translate(356.9,265.7) rotate(-90)" x="0" y="3.69" font-size="10.3" text-anchor="middle" fill="#161616" stroke="#161616" stroke-width="0.25">KIR2DL2/L3/S2</text>
<text transform="translate(442.8,265.7) rotate(-90)" x="0" y="3.69" font-size="10.3" text-anchor="middle" fill="#161616" stroke="#161616" stroke-width="0.25">KIR2DS4</text>
<text x="56.6" y="311.89" font-size="10.3" text-anchor="middle" font-weight="normal" fill="#161616" stroke="#161616" stroke-width="0.25">CD57</text>
<text x="142.5" y="311.89" font-size="10.3" text-anchor="middle" font-weight="normal" fill="#161616" stroke="#161616" stroke-width="0.25">NKG2C</text>
<text x="226.6" y="311.89" font-size="10.3" text-anchor="middle" font-weight="normal" fill="#161616" stroke="#161616" stroke-width="0.25">KIR2DL1/S1</text>
<text x="310.7" y="311.89" font-size="10.3" text-anchor="middle" font-weight="normal" fill="#161616" stroke="#161616" stroke-width="0.25">KIR2DL2/L3/S2</text>
<text x="396.2" y="311.89" font-size="10.3" text-anchor="middle" font-weight="normal" fill="#161616" stroke="#161616" stroke-width="0.25">KIR3DL1</text>
<text x="482.3" y="310.29" font-size="10.3" text-anchor="middle" font-weight="normal" fill="#161616" stroke="#161616" stroke-width="0.25">KIR3DL2</text>
<text x="0.4" y="341" font-size="17" text-anchor="start" font-weight="bold" fill="#000" stroke="#000" stroke-width="0.25">B</text>
<text x="49" y="345.07" font-size="12.2" text-anchor="middle" font-weight="normal" fill="#161616" stroke="#161616" stroke-width="0.25">100</text>
<text x="49" y="373.97" font-size="12.2" text-anchor="middle" font-weight="normal" fill="#161616" stroke="#161616" stroke-width="0.25">80</text>
<text x="49" y="402.77" font-size="12.2" text-anchor="middle" font-weight="normal" fill="#161616" stroke="#161616" stroke-width="0.25">60</text>
<text x="49" y="429.97" font-size="12.2" text-anchor="middle" font-weight="normal" fill="#161616" stroke="#161616" stroke-width="0.25">40</text>
<text x="49" y="460.17" font-size="12.2" text-anchor="middle" font-weight="normal" fill="#161616" stroke="#161616" stroke-width="0.25">20</text>
<text x="37" y="476.5" font-size="9" textLength="18.6" lengthAdjust="spacingAndGlyphs" fill="#48489a" stroke="#48489a" stroke-width="0.2">2DL1</text>
<text x="37" y="487.6" font-size="9" textLength="18.6" lengthAdjust="spacingAndGlyphs" fill="#9a58a8" stroke="#9a58a8" stroke-width="0.2">2DL2</text>
<text x="37" y="498.9" font-size="9" textLength="18.6" lengthAdjust="spacingAndGlyphs" fill="#c04848" stroke="#c04848" stroke-width="0.2">2DL3</text>
<text x="37" y="509.7" font-size="9" textLength="18.6" lengthAdjust="spacingAndGlyphs" fill="#5c7ec0" stroke="#5c7ec0" stroke-width="0.2">2DS1</text>
<text x="37" y="520.6" font-size="9" textLength="18.6" lengthAdjust="spacingAndGlyphs" fill="#e08a50" stroke="#e08a50" stroke-width="0.2">2DS4</text>
<text x="37" y="531.9" font-size="9" textLength="18.6" lengthAdjust="spacingAndGlyphs" fill="#289a6c" stroke="#289a6c" stroke-width="0.2">3DL1</text>
<text x="37" y="542.7" font-size="9" textLength="18.6" lengthAdjust="spacingAndGlyphs" fill="#1a1a1a" stroke="#1a1a1a" stroke-width="0.2">3DL2</text>
<text transform="translate(25.9,411.3) rotate(-90)" x="0" y="0" font-size="15" text-anchor="middle" fill="#161616" stroke="#161616" stroke-width="0.3">% of CD56<tspan font-size="9" dy="-5.5">dim</tspan><tspan dy="5.5"> NK Cells</tspan></text>
<text x="276.8" y="342.4" font-size="17.4" text-anchor="start" font-weight="bold" fill="#000" stroke="#000" stroke-width="0.25">C</text>
<text x="324.4" y="349.24" font-size="12.4" text-anchor="end" font-weight="normal" fill="#161616" stroke="#161616" stroke-width="0.25">0.8</text>
<text x="324.4" y="387.24" font-size="12.4" text-anchor="end" font-weight="normal" fill="#161616" stroke="#161616" stroke-width="0.25">0.6</text>
<text x="324.4" y="424.99" font-size="12.4" text-anchor="end" font-weight="normal" fill="#161616" stroke="#161616" stroke-width="0.25">0.4</text>
<text x="324.4" y="462.24" font-size="12.4" text-anchor="end" font-weight="normal" fill="#161616" stroke="#161616" stroke-width="0.25">0.2</text>
<text x="368" y="510.84" font-size="12.4" text-anchor="middle" font-weight="normal" fill="#161616" stroke="#161616" stroke-width="0.25">0.2</text>
<text x="406.2" y="510.84" font-size="12.4" text-anchor="middle" font-weight="normal" fill="#161616" stroke="#161616" stroke-width="0.25">0.4</text>
<text x="446.2" y="510.84" font-size="12.4" text-anchor="middle" font-weight="normal" fill="#161616" stroke="#161616" stroke-width="0.25">0.6</text>
<text x="482.6" y="510.84" font-size="12.4" text-anchor="middle" font-weight="normal" fill="#161616" stroke="#161616" stroke-width="0.25">0.8</text>
<text transform="translate(293.7,420.8) rotate(-90)" x="0" y="5.66" font-size="15.8" text-anchor="middle" fill="#161616" stroke="#161616" stroke-width="0.25">Observed</text>
<text x="373.6" y="531.6" font-size="15.8" text-anchor="start" font-weight="normal" fill="#161616" stroke="#161616" stroke-width="0.25">Expected</text></g>
</svg></body></html>
